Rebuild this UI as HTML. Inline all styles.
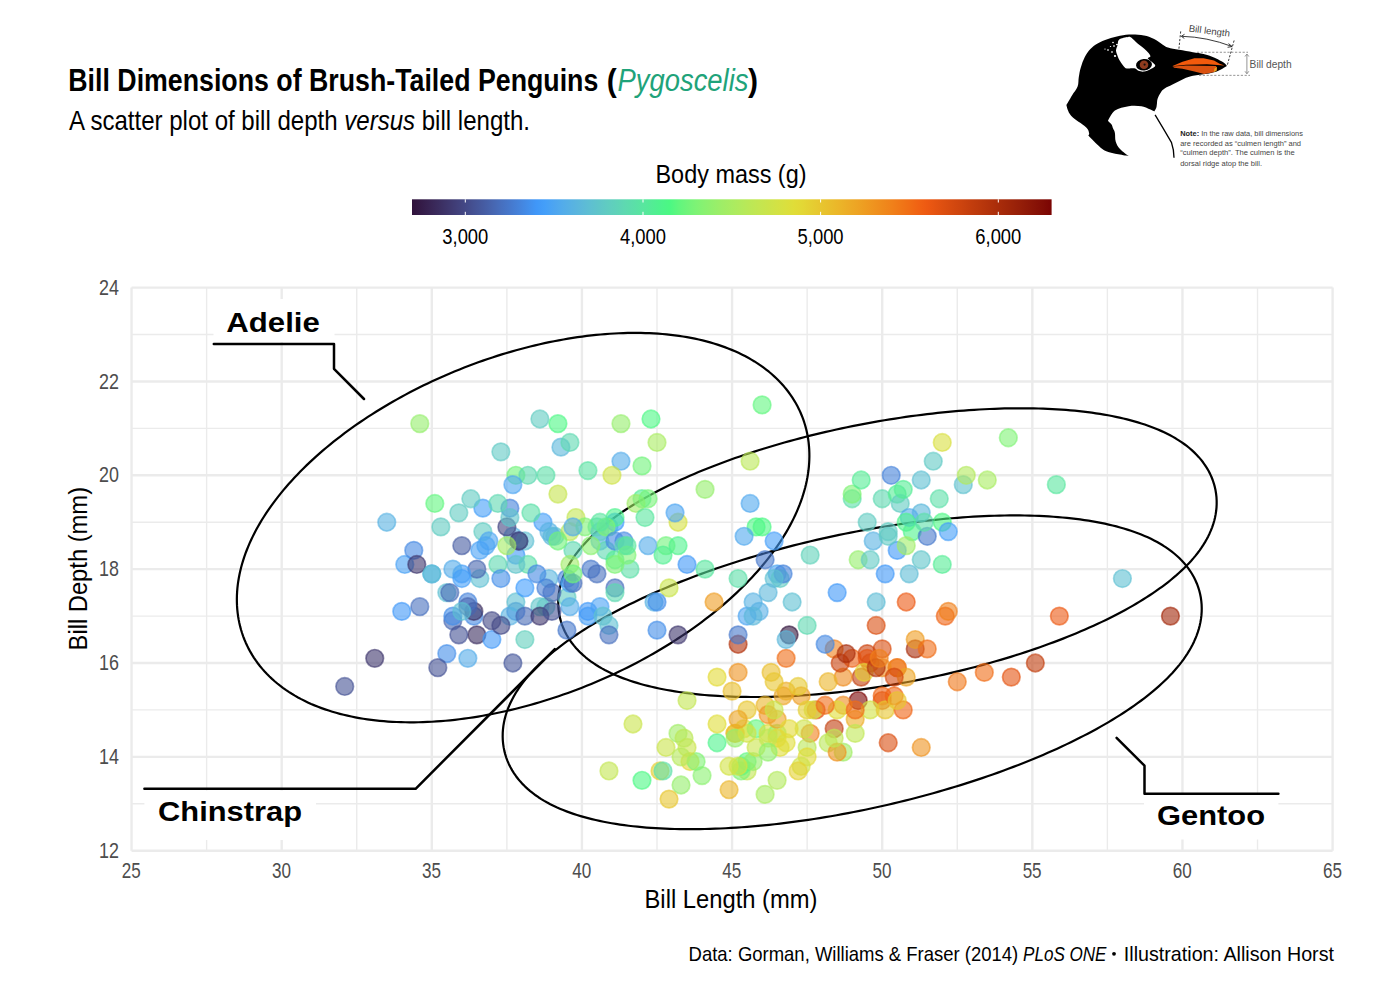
<!DOCTYPE html><html><head><meta charset="utf-8"><style>html,body{margin:0;padding:0;background:#fff;}svg{display:block;}text{font-family:"Liberation Sans",sans-serif;}</style></head><body>
<svg width="1400" height="1000" viewBox="0 0 1400 1000">
<rect width="1400" height="1000" fill="#fff"/>
<text x="68.3" y="91" font-size="30.6" font-weight="bold" fill="#000" textLength="530" lengthAdjust="spacingAndGlyphs">Bill Dimensions of Brush-Tailed Penguins</text>
<text x="606.8" y="91" font-size="30.6" font-weight="bold" fill="#000" textLength="10" lengthAdjust="spacingAndGlyphs">(</text>
<text x="617.5" y="91" font-size="30.6" font-style="italic" fill="#1fa37a" textLength="131" lengthAdjust="spacingAndGlyphs">Pygoscelis</text>
<text x="748" y="91" font-size="30.6" font-weight="bold" fill="#000" textLength="10" lengthAdjust="spacingAndGlyphs">)</text>
<text x="69" y="130" font-size="27.4" fill="#000" textLength="461" lengthAdjust="spacingAndGlyphs">A scatter plot of bill depth <tspan font-style="italic">versus</tspan> bill length.</text>
<defs><linearGradient id="cb" x1="0" x2="1" y1="0" y2="0">
<stop offset="0.0000" stop-color="#30123b"/>
<stop offset="0.0139" stop-color="#341b47"/>
<stop offset="0.0278" stop-color="#382453"/>
<stop offset="0.0417" stop-color="#3b2d5f"/>
<stop offset="0.0556" stop-color="#3e366c"/>
<stop offset="0.0694" stop-color="#413f79"/>
<stop offset="0.0833" stop-color="#434886"/>
<stop offset="0.0972" stop-color="#455294"/>
<stop offset="0.1111" stop-color="#465ba1"/>
<stop offset="0.1250" stop-color="#4765af"/>
<stop offset="0.1389" stop-color="#476fbe"/>
<stop offset="0.1528" stop-color="#4678cc"/>
<stop offset="0.1667" stop-color="#4582da"/>
<stop offset="0.1806" stop-color="#438de9"/>
<stop offset="0.1944" stop-color="#4097f8"/>
<stop offset="0.2083" stop-color="#449ff9"/>
<stop offset="0.2222" stop-color="#4da5f1"/>
<stop offset="0.2361" stop-color="#53acea"/>
<stop offset="0.2500" stop-color="#58b2e2"/>
<stop offset="0.2639" stop-color="#5cb8da"/>
<stop offset="0.2778" stop-color="#5ebfd2"/>
<stop offset="0.2917" stop-color="#5fc5c9"/>
<stop offset="0.3056" stop-color="#60ccc1"/>
<stop offset="0.3194" stop-color="#5fd2b9"/>
<stop offset="0.3333" stop-color="#5ed9b0"/>
<stop offset="0.3472" stop-color="#5bdfa8"/>
<stop offset="0.3611" stop-color="#58e69f"/>
<stop offset="0.3750" stop-color="#53ec95"/>
<stop offset="0.3889" stop-color="#4df38c"/>
<stop offset="0.4028" stop-color="#4bf883"/>
<stop offset="0.4167" stop-color="#60f67e"/>
<stop offset="0.4306" stop-color="#70f47a"/>
<stop offset="0.4444" stop-color="#7ef375"/>
<stop offset="0.4583" stop-color="#8af170"/>
<stop offset="0.4722" stop-color="#95ef6b"/>
<stop offset="0.4861" stop-color="#a0ed66"/>
<stop offset="0.5000" stop-color="#a9ec61"/>
<stop offset="0.5139" stop-color="#b2ea5c"/>
<stop offset="0.5278" stop-color="#bbe856"/>
<stop offset="0.5417" stop-color="#c3e651"/>
<stop offset="0.5556" stop-color="#cae44b"/>
<stop offset="0.5694" stop-color="#d2e245"/>
<stop offset="0.5833" stop-color="#d9e03f"/>
<stop offset="0.5972" stop-color="#e0dd38"/>
<stop offset="0.6111" stop-color="#e3d735"/>
<stop offset="0.6250" stop-color="#e5ce32"/>
<stop offset="0.6389" stop-color="#e7c62f"/>
<stop offset="0.6528" stop-color="#e9be2c"/>
<stop offset="0.6667" stop-color="#ebb629"/>
<stop offset="0.6806" stop-color="#ecad27"/>
<stop offset="0.6944" stop-color="#eda524"/>
<stop offset="0.7083" stop-color="#ee9c21"/>
<stop offset="0.7222" stop-color="#ef931f"/>
<stop offset="0.7361" stop-color="#ef8a1c"/>
<stop offset="0.7500" stop-color="#f0811a"/>
<stop offset="0.7639" stop-color="#f07717"/>
<stop offset="0.7778" stop-color="#f06d15"/>
<stop offset="0.7917" stop-color="#f06213"/>
<stop offset="0.8056" stop-color="#ed5912"/>
<stop offset="0.8194" stop-color="#e45311"/>
<stop offset="0.8333" stop-color="#db4e10"/>
<stop offset="0.8472" stop-color="#d3480f"/>
<stop offset="0.8611" stop-color="#cb430e"/>
<stop offset="0.8750" stop-color="#c23d0d"/>
<stop offset="0.8889" stop-color="#ba380c"/>
<stop offset="0.9028" stop-color="#b2320b"/>
<stop offset="0.9167" stop-color="#a92c0a"/>
<stop offset="0.9306" stop-color="#a12709"/>
<stop offset="0.9444" stop-color="#992109"/>
<stop offset="0.9583" stop-color="#911b08"/>
<stop offset="0.9722" stop-color="#891407"/>
<stop offset="0.9861" stop-color="#820d05"/>
<stop offset="1.0000" stop-color="#7a0403"/>
</linearGradient></defs>
<rect x="412.0" y="199.3" width="639.6" height="15.7" fill="url(#cb)"/>
<line x1="465.3" x2="465.3" y1="199.3" y2="202.5" stroke="#fff" stroke-width="1"/>
<line x1="465.3" x2="465.3" y1="211.8" y2="215" stroke="#fff" stroke-width="1"/>
<text x="465.3" y="244" font-size="21.8" fill="#000" text-anchor="middle" textLength="46" lengthAdjust="spacingAndGlyphs">3,000</text>
<line x1="643.0" x2="643.0" y1="199.3" y2="202.5" stroke="#fff" stroke-width="1"/>
<line x1="643.0" x2="643.0" y1="211.8" y2="215" stroke="#fff" stroke-width="1"/>
<text x="643.0" y="244" font-size="21.8" fill="#000" text-anchor="middle" textLength="46" lengthAdjust="spacingAndGlyphs">4,000</text>
<line x1="820.6" x2="820.6" y1="199.3" y2="202.5" stroke="#fff" stroke-width="1"/>
<line x1="820.6" x2="820.6" y1="211.8" y2="215" stroke="#fff" stroke-width="1"/>
<text x="820.6" y="244" font-size="21.8" fill="#000" text-anchor="middle" textLength="46" lengthAdjust="spacingAndGlyphs">5,000</text>
<line x1="998.3" x2="998.3" y1="199.3" y2="202.5" stroke="#fff" stroke-width="1"/>
<line x1="998.3" x2="998.3" y1="211.8" y2="215" stroke="#fff" stroke-width="1"/>
<text x="998.3" y="244" font-size="21.8" fill="#000" text-anchor="middle" textLength="46" lengthAdjust="spacingAndGlyphs">6,000</text>
<text x="731" y="182.7" font-size="25.6" fill="#000" text-anchor="middle" textLength="151" lengthAdjust="spacingAndGlyphs">Body mass (g)</text>
<line x1="131.55" x2="131.55" y1="287.60" y2="850.70" stroke="#ebebeb" stroke-width="2.4"/><line x1="206.62" x2="206.62" y1="287.60" y2="850.70" stroke="#ebebeb" stroke-width="1.4"/><line x1="281.68" x2="281.68" y1="287.60" y2="850.70" stroke="#ebebeb" stroke-width="2.4"/><line x1="356.75" x2="356.75" y1="287.60" y2="850.70" stroke="#ebebeb" stroke-width="1.4"/><line x1="431.81" x2="431.81" y1="287.60" y2="850.70" stroke="#ebebeb" stroke-width="2.4"/><line x1="506.88" x2="506.88" y1="287.60" y2="850.70" stroke="#ebebeb" stroke-width="1.4"/><line x1="581.94" x2="581.94" y1="287.60" y2="850.70" stroke="#ebebeb" stroke-width="2.4"/><line x1="657.01" x2="657.01" y1="287.60" y2="850.70" stroke="#ebebeb" stroke-width="1.4"/><line x1="732.07" x2="732.07" y1="287.60" y2="850.70" stroke="#ebebeb" stroke-width="2.4"/><line x1="807.13" x2="807.13" y1="287.60" y2="850.70" stroke="#ebebeb" stroke-width="1.4"/><line x1="882.20" x2="882.20" y1="287.60" y2="850.70" stroke="#ebebeb" stroke-width="2.4"/><line x1="957.27" x2="957.27" y1="287.60" y2="850.70" stroke="#ebebeb" stroke-width="1.4"/><line x1="1032.33" x2="1032.33" y1="287.60" y2="850.70" stroke="#ebebeb" stroke-width="2.4"/><line x1="1107.39" x2="1107.39" y1="287.60" y2="850.70" stroke="#ebebeb" stroke-width="1.4"/><line x1="1182.46" x2="1182.46" y1="287.60" y2="850.70" stroke="#ebebeb" stroke-width="2.4"/><line x1="1257.52" x2="1257.52" y1="287.60" y2="850.70" stroke="#ebebeb" stroke-width="1.4"/><line x1="1332.59" x2="1332.59" y1="287.60" y2="850.70" stroke="#ebebeb" stroke-width="2.4"/><line x1="131.55" x2="1332.59" y1="850.70" y2="850.70" stroke="#ebebeb" stroke-width="2.4"/><line x1="131.55" x2="1332.59" y1="803.77" y2="803.77" stroke="#ebebeb" stroke-width="1.4"/><line x1="131.55" x2="1332.59" y1="756.85" y2="756.85" stroke="#ebebeb" stroke-width="2.4"/><line x1="131.55" x2="1332.59" y1="709.92" y2="709.92" stroke="#ebebeb" stroke-width="1.4"/><line x1="131.55" x2="1332.59" y1="663.00" y2="663.00" stroke="#ebebeb" stroke-width="2.4"/><line x1="131.55" x2="1332.59" y1="616.08" y2="616.08" stroke="#ebebeb" stroke-width="1.4"/><line x1="131.55" x2="1332.59" y1="569.15" y2="569.15" stroke="#ebebeb" stroke-width="2.4"/><line x1="131.55" x2="1332.59" y1="522.23" y2="522.23" stroke="#ebebeb" stroke-width="1.4"/><line x1="131.55" x2="1332.59" y1="475.30" y2="475.30" stroke="#ebebeb" stroke-width="2.4"/><line x1="131.55" x2="1332.59" y1="428.38" y2="428.38" stroke="#ebebeb" stroke-width="1.4"/><line x1="131.55" x2="1332.59" y1="381.45" y2="381.45" stroke="#ebebeb" stroke-width="2.4"/><line x1="131.55" x2="1332.59" y1="334.53" y2="334.53" stroke="#ebebeb" stroke-width="1.4"/><line x1="131.55" x2="1332.59" y1="287.60" y2="287.60" stroke="#ebebeb" stroke-width="2.4"/>
<text x="131.35" y="878" font-size="21.8" fill="#4d4d4d" text-anchor="middle" textLength="19" lengthAdjust="spacingAndGlyphs">25</text>
<text x="281.48" y="878" font-size="21.8" fill="#4d4d4d" text-anchor="middle" textLength="19" lengthAdjust="spacingAndGlyphs">30</text>
<text x="431.61" y="878" font-size="21.8" fill="#4d4d4d" text-anchor="middle" textLength="19" lengthAdjust="spacingAndGlyphs">35</text>
<text x="581.74" y="878" font-size="21.8" fill="#4d4d4d" text-anchor="middle" textLength="19" lengthAdjust="spacingAndGlyphs">40</text>
<text x="731.87" y="878" font-size="21.8" fill="#4d4d4d" text-anchor="middle" textLength="19" lengthAdjust="spacingAndGlyphs">45</text>
<text x="882.00" y="878" font-size="21.8" fill="#4d4d4d" text-anchor="middle" textLength="19" lengthAdjust="spacingAndGlyphs">50</text>
<text x="1032.13" y="878" font-size="21.8" fill="#4d4d4d" text-anchor="middle" textLength="19" lengthAdjust="spacingAndGlyphs">55</text>
<text x="1182.26" y="878" font-size="21.8" fill="#4d4d4d" text-anchor="middle" textLength="19" lengthAdjust="spacingAndGlyphs">60</text>
<text x="1332.39" y="878" font-size="21.8" fill="#4d4d4d" text-anchor="middle" textLength="19" lengthAdjust="spacingAndGlyphs">65</text>
<text x="119" y="857.80" font-size="21.8" fill="#4d4d4d" text-anchor="end" textLength="19.9" lengthAdjust="spacingAndGlyphs">12</text>
<text x="119" y="763.95" font-size="21.8" fill="#4d4d4d" text-anchor="end" textLength="19.9" lengthAdjust="spacingAndGlyphs">14</text>
<text x="119" y="670.10" font-size="21.8" fill="#4d4d4d" text-anchor="end" textLength="19.9" lengthAdjust="spacingAndGlyphs">16</text>
<text x="119" y="576.25" font-size="21.8" fill="#4d4d4d" text-anchor="end" textLength="19.9" lengthAdjust="spacingAndGlyphs">18</text>
<text x="119" y="482.40" font-size="21.8" fill="#4d4d4d" text-anchor="end" textLength="19.9" lengthAdjust="spacingAndGlyphs">20</text>
<text x="119" y="388.55" font-size="21.8" fill="#4d4d4d" text-anchor="end" textLength="19.9" lengthAdjust="spacingAndGlyphs">22</text>
<text x="119" y="294.70" font-size="21.8" fill="#4d4d4d" text-anchor="end" textLength="19.9" lengthAdjust="spacingAndGlyphs">24</text>
<text x="731" y="907.9" font-size="26.2" fill="#000" text-anchor="middle" textLength="173" lengthAdjust="spacingAndGlyphs">Bill Length (mm)</text>
<text transform="translate(87.1,568.7) rotate(-90)" x="0" y="0" font-size="26.2" fill="#000" text-anchor="middle" textLength="163.5" lengthAdjust="spacingAndGlyphs">Bill Depth (mm)</text>
<text x="688.6" y="960.6" font-size="20.4" fill="#000" textLength="329.6" lengthAdjust="spacingAndGlyphs">Data: Gorman, Williams &amp; Fraser (2014)</text>
<text x="1023" y="960.6" font-size="20.4" font-style="italic" fill="#000" textLength="83.5" lengthAdjust="spacingAndGlyphs">PLoS ONE</text>
<circle cx="1114" cy="953.8" r="1.9" fill="#000"/>
<text x="1123.8" y="960.6" font-size="20.4" fill="#000" textLength="210.2" lengthAdjust="spacingAndGlyphs">Illustration: Allison Horst</text>
<path d="M244.41,639.49 L243.18,636.27 L242.05,633.01 L241.04,629.71 L240.14,626.38 L239.34,623.02 L238.66,619.63 L238.09,616.22 L237.63,612.79 L237.27,609.34 L237.03,605.88 L236.89,602.40 L236.86,598.92 L236.93,595.43 L237.11,591.94 L237.38,588.45 L237.76,584.95 L238.24,581.46 L238.81,577.96 L239.48,574.47 L240.25,570.99 L241.10,567.51 L242.05,564.04 L243.08,560.58 L244.20,557.12 L245.41,553.68 L246.71,550.24 L248.08,546.81 L249.54,543.40 L251.08,539.99 L252.70,536.60 L254.40,533.21 L256.18,529.84 L258.03,526.48 L259.96,523.14 L261.96,519.80 L264.04,516.48 L266.19,513.17 L268.41,509.88 L270.70,506.60 L273.06,503.33 L275.49,500.08 L277.98,496.85 L280.55,493.63 L283.18,490.42 L285.88,487.23 L288.64,484.06 L291.46,480.91 L294.35,477.77 L297.30,474.65 L300.31,471.55 L303.38,468.47 L306.51,465.41 L309.69,462.37 L312.94,459.35 L316.24,456.35 L319.60,453.38 L323.01,450.42 L326.48,447.49 L330.00,444.59 L333.57,441.70 L337.19,438.84 L340.86,436.01 L344.58,433.20 L348.35,430.42 L352.17,427.67 L356.03,424.94 L359.94,422.24 L363.89,419.58 L367.88,416.94 L371.92,414.33 L375.99,411.75 L380.11,409.20 L384.26,406.69 L388.45,404.21 L392.68,401.76 L396.94,399.34 L401.23,396.96 L405.56,394.62 L409.92,392.31 L414.31,390.03 L418.73,387.80 L423.18,385.60 L427.65,383.43 L432.15,381.31 L436.67,379.23 L441.22,377.18 L445.79,375.18 L450.38,373.21 L454.99,371.29 L459.61,369.41 L464.26,367.57 L468.92,365.77 L473.59,364.02 L478.28,362.31 L482.98,360.64 L487.69,359.02 L492.40,357.44 L497.13,355.91 L501.86,354.42 L506.60,352.98 L511.35,351.59 L516.09,350.25 L520.84,348.95 L525.59,347.70 L530.34,346.50 L535.09,345.34 L539.83,344.24 L544.57,343.18 L549.30,342.18 L554.03,341.22 L558.75,340.32 L563.46,339.46 L568.16,338.66 L572.85,337.91 L577.52,337.21 L582.18,336.56 L586.83,335.96 L591.46,335.41 L596.07,334.92 L600.66,334.48 L605.24,334.10 L609.79,333.76 L614.32,333.48 L618.83,333.26 L623.31,333.09 L627.77,332.97 L632.20,332.91 L636.61,332.90 L640.98,332.95 L645.33,333.05 L649.65,333.21 L653.94,333.42 L658.19,333.69 L662.41,334.02 L666.60,334.40 L670.75,334.84 L674.87,335.34 L678.95,335.89 L682.99,336.50 L686.99,337.17 L690.95,337.90 L694.88,338.68 L698.76,339.53 L702.60,340.43 L706.39,341.40 L710.15,342.42 L713.85,343.50 L717.51,344.65 L721.13,345.86 L724.70,347.13 L728.21,348.46 L731.68,349.86 L735.10,351.31 L738.46,352.84 L741.77,354.43 L745.03,356.08 L748.23,357.80 L751.37,359.59 L754.45,361.44 L757.48,363.36 L760.44,365.35 L763.33,367.41 L766.16,369.53 L768.92,371.73 L771.61,373.99 L774.23,376.33 L776.77,378.73 L779.24,381.20 L781.62,383.73 L783.92,386.34 L786.14,389.01 L788.27,391.74 L790.31,394.54 L792.25,397.40 L794.10,400.32 L795.85,403.30 L797.50,406.33 L799.05,409.41 L800.50,412.55 L801.84,415.73 L803.07,418.95 L804.19,422.21 L805.20,425.51 L806.11,428.84 L806.90,432.20 L807.58,435.59 L808.15,439.00 L808.62,442.43 L808.97,445.88 L809.22,449.34 L809.35,452.82 L809.39,456.30 L809.31,459.79 L809.14,463.28 L808.86,466.78 L808.48,470.27 L808.00,473.77 L807.43,477.26 L806.76,480.75 L806.00,484.23 L805.14,487.71 L804.20,491.18 L803.16,494.64 L802.04,498.10 L800.83,501.54 L799.54,504.98 L798.16,508.41 L796.70,511.82 L795.16,515.23 L793.54,518.62 L791.84,522.01 L790.06,525.38 L788.21,528.74 L786.28,532.08 L784.28,535.42 L782.20,538.74 L780.06,542.05 L777.84,545.34 L775.54,548.62 L773.18,551.89 L770.76,555.14 L768.26,558.37 L765.69,561.59 L763.06,564.80 L760.37,567.99 L757.61,571.16 L754.78,574.31 L751.90,577.45 L748.95,580.57 L745.94,583.67 L742.87,586.75 L739.74,589.81 L736.55,592.85 L733.30,595.87 L730.00,598.87 L726.64,601.84 L723.23,604.80 L719.77,607.73 L716.25,610.64 L712.67,613.52 L709.05,616.38 L705.38,619.21 L701.66,622.02 L697.89,624.80 L694.07,627.55 L690.21,630.28 L686.31,632.98 L682.36,635.65 L678.36,638.28 L674.33,640.89 L670.25,643.47 L666.14,646.02 L661.98,648.53 L657.79,651.01 L653.57,653.46 L649.30,655.88 L645.01,658.26 L640.68,660.60 L636.32,662.91 L631.93,665.19 L627.51,667.43 L623.06,669.62 L618.59,671.79 L614.09,673.91 L609.57,675.99 L605.02,678.04 L600.45,680.04 L595.86,682.01 L591.26,683.93 L586.63,685.81 L581.98,687.65 L577.33,689.45 L572.65,691.20 L567.97,692.92 L563.27,694.58 L558.56,696.20 L553.84,697.78 L549.11,699.31 L544.38,700.80 L539.64,702.24 L534.89,703.63 L530.15,704.97 L525.40,706.27 L520.65,707.52 L515.90,708.73 L511.15,709.88 L506.41,710.98 L501.67,712.04 L496.94,713.04 L492.21,714.00 L487.49,714.90 L482.78,715.76 L478.08,716.56 L473.40,717.32 L468.72,718.02 L464.06,718.67 L459.41,719.26 L454.79,719.81 L450.17,720.30 L445.58,720.74 L441.01,721.12 L436.45,721.46 L431.92,721.74 L427.42,721.96 L422.93,722.13 L418.47,722.25 L414.04,722.31 L409.63,722.32 L405.26,722.27 L400.91,722.17 L396.59,722.01 L392.31,721.80 L388.05,721.53 L383.83,721.20 L379.64,720.82 L375.49,720.38 L371.38,719.88 L367.30,719.33 L363.25,718.72 L359.25,718.05 L355.29,717.32 L351.37,716.54 L347.48,715.69 L343.64,714.79 L339.85,713.83 L336.10,712.80 L332.39,711.72 L328.73,710.57 L325.11,709.36 L321.55,708.09 L318.03,706.76 L314.56,705.37 L311.14,703.91 L307.78,702.38 L304.47,700.79 L301.21,699.14 L298.01,697.42 L294.87,695.63 L291.79,693.78 L288.77,691.86 L285.81,689.87 L282.91,687.81 L280.08,685.69 L277.32,683.49 L274.63,681.23 L272.01,678.90 L269.47,676.49 L267.00,674.02 L264.62,671.49 L262.32,668.88 L260.10,666.21 L257.97,663.48 L255.94,660.68 L253.99,657.82 L252.14,654.90 L250.39,651.92 L248.74,648.89 L247.19,645.81 L245.75,642.67Z" fill="none" stroke="#000" stroke-width="2.2" stroke-linejoin="round"/>
<path d="M559.38,614.98 L558.82,611.54 L558.45,608.07 L558.26,604.60 L558.25,601.13 L558.43,597.69 L558.77,594.27 L559.28,590.91 L559.94,587.58 L560.76,584.32 L561.71,581.11 L562.79,577.97 L563.99,574.89 L565.31,571.87 L566.73,568.91 L568.26,566.01 L569.89,563.17 L571.60,560.38 L573.41,557.65 L575.30,554.96 L577.27,552.32 L579.32,549.72 L581.45,547.16 L583.65,544.64 L585.93,542.15 L588.28,539.70 L590.71,537.28 L593.20,534.88 L595.77,532.51 L598.41,530.17 L601.11,527.85 L603.89,525.55 L606.73,523.28 L609.64,521.02 L612.62,518.79 L615.67,516.57 L618.78,514.37 L621.96,512.19 L625.21,510.03 L628.52,507.89 L631.89,505.76 L635.33,503.64 L638.83,501.55 L642.40,499.47 L646.03,497.40 L649.72,495.36 L653.47,493.32 L657.28,491.31 L661.15,489.31 L665.07,487.33 L669.06,485.36 L673.10,483.41 L677.20,481.48 L681.35,479.57 L685.56,477.67 L689.82,475.80 L694.13,473.94 L698.49,472.10 L702.90,470.27 L707.36,468.47 L711.87,466.69 L716.43,464.92 L721.03,463.18 L725.67,461.46 L730.36,459.76 L735.09,458.08 L739.86,456.42 L744.67,454.78 L749.51,453.17 L754.40,451.58 L759.32,450.01 L764.27,448.47 L769.26,446.95 L774.27,445.45 L779.32,443.98 L784.40,442.53 L789.50,441.11 L794.63,439.72 L799.78,438.35 L804.96,437.01 L810.16,435.69 L815.38,434.40 L820.62,433.14 L825.88,431.91 L831.15,430.70 L836.43,429.53 L841.73,428.38 L847.04,427.26 L852.37,426.17 L857.70,425.11 L863.03,424.08 L868.38,423.08 L873.72,422.11 L879.07,421.18 L884.42,420.27 L889.78,419.39 L895.13,418.55 L900.47,417.74 L905.81,416.96 L911.15,416.21 L916.48,415.49 L921.80,414.81 L927.11,414.16 L932.40,413.54 L937.69,412.96 L942.96,412.41 L948.21,411.89 L953.45,411.41 L958.66,410.96 L963.86,410.54 L969.03,410.16 L974.18,409.82 L979.31,409.51 L984.41,409.23 L989.49,408.99 L994.53,408.78 L999.55,408.61 L1004.53,408.47 L1009.48,408.37 L1014.40,408.31 L1019.29,408.28 L1024.14,408.28 L1028.95,408.32 L1033.72,408.40 L1038.45,408.51 L1043.15,408.66 L1047.80,408.85 L1052.41,409.07 L1056.97,409.33 L1061.49,409.62 L1065.97,409.95 L1070.39,410.32 L1074.77,410.72 L1079.11,411.16 L1083.39,411.64 L1087.62,412.15 L1091.81,412.70 L1095.94,413.29 L1100.02,413.92 L1104.05,414.59 L1108.02,415.29 L1111.94,416.03 L1115.81,416.82 L1119.62,417.64 L1123.38,418.50 L1127.08,419.40 L1130.73,420.35 L1134.32,421.33 L1137.86,422.36 L1141.34,423.44 L1144.76,424.56 L1148.13,425.72 L1151.44,426.93 L1154.70,428.20 L1157.90,429.51 L1161.04,430.87 L1164.13,432.29 L1167.16,433.77 L1170.14,435.31 L1173.06,436.91 L1175.92,438.57 L1178.72,440.31 L1181.46,442.11 L1184.15,444.00 L1186.77,445.96 L1189.32,448.01 L1191.80,450.14 L1194.21,452.37 L1196.55,454.70 L1198.80,457.13 L1200.96,459.65 L1203.02,462.29 L1204.97,465.03 L1206.80,467.87 L1208.51,470.82 L1210.09,473.87 L1211.51,477.01 L1212.78,480.24 L1213.87,483.54 L1214.80,486.90 L1215.54,490.31 L1216.10,493.76 L1216.48,497.23 L1216.66,500.70 L1216.67,504.16 L1216.50,507.61 L1216.15,511.02 L1215.64,514.39 L1214.98,517.71 L1214.17,520.98 L1213.22,524.18 L1212.14,527.33 L1210.93,530.41 L1209.61,533.43 L1208.19,536.39 L1206.66,539.28 L1205.04,542.13 L1203.32,544.91 L1201.52,547.65 L1199.63,550.34 L1197.65,552.98 L1195.60,555.58 L1193.48,558.13 L1191.27,560.66 L1188.99,563.14 L1186.64,565.60 L1184.22,568.02 L1181.72,570.41 L1179.15,572.78 L1176.52,575.13 L1173.81,577.44 L1171.03,579.74 L1168.19,582.02 L1165.28,584.27 L1162.30,586.51 L1159.25,588.72 L1156.14,590.92 L1152.96,593.10 L1149.71,595.26 L1146.40,597.41 L1143.03,599.54 L1139.59,601.65 L1136.09,603.75 L1132.52,605.83 L1128.89,607.89 L1125.20,609.94 L1121.45,611.97 L1117.64,613.99 L1113.78,615.99 L1109.85,617.97 L1105.86,619.93 L1101.82,621.88 L1097.72,623.81 L1093.57,625.73 L1089.36,627.62 L1085.10,629.50 L1080.79,631.36 L1076.43,633.20 L1072.02,635.02 L1067.56,636.82 L1063.05,638.61 L1058.50,640.37 L1053.90,642.11 L1049.25,643.84 L1044.56,645.54 L1039.83,647.22 L1035.06,648.88 L1030.26,650.51 L1025.41,652.13 L1020.53,653.72 L1015.61,655.28 L1010.65,656.83 L1005.67,658.35 L1000.65,659.84 L995.60,661.31 L990.53,662.76 L985.42,664.18 L980.29,665.58 L975.14,666.95 L969.96,668.29 L964.76,669.60 L959.54,670.89 L954.30,672.15 L949.05,673.39 L943.77,674.59 L938.49,675.77 L933.19,676.92 L927.88,678.03 L922.56,679.12 L917.23,680.18 L911.89,681.21 L906.55,682.21 L901.20,683.18 L895.85,684.12 L890.50,685.03 L885.15,685.90 L879.80,686.75 L874.45,687.56 L869.11,688.34 L863.77,689.09 L858.44,689.80 L853.12,690.49 L847.81,691.14 L842.52,691.75 L837.23,692.34 L831.96,692.89 L826.71,693.40 L821.48,693.89 L816.26,694.34 L811.06,694.75 L805.89,695.13 L800.74,695.48 L795.61,695.79 L790.51,696.06 L785.44,696.31 L780.39,696.51 L775.38,696.68 L770.39,696.82 L765.44,696.92 L760.52,696.99 L755.64,697.02 L750.79,697.01 L745.98,696.97 L741.20,696.89 L736.47,696.78 L731.78,696.63 L727.13,696.45 L722.52,696.23 L717.95,695.97 L713.43,695.68 L708.96,695.35 L704.53,694.98 L700.15,694.58 L695.82,694.14 L691.53,693.66 L687.30,693.14 L683.11,692.59 L678.98,692.00 L674.90,691.37 L670.88,690.71 L666.90,690.01 L662.98,689.26 L659.11,688.48 L655.30,687.66 L651.54,686.80 L647.84,685.89 L644.19,684.95 L640.60,683.96 L637.07,682.93 L633.59,681.86 L630.16,680.74 L626.79,679.57 L623.48,678.36 L620.22,677.10 L617.02,675.79 L613.88,674.42 L610.79,673.00 L607.76,671.52 L604.78,669.99 L601.87,668.39 L599.00,666.72 L596.20,664.99 L593.46,663.18 L590.78,661.30 L588.16,659.33 L585.60,657.29 L583.12,655.15 L580.71,652.92 L578.37,650.60 L576.13,648.17 L573.97,645.64 L571.91,643.01 L569.95,640.27 L568.12,637.42 L566.41,634.47 L564.84,631.43 L563.41,628.29 L562.15,625.06 L561.05,621.76 L560.12,618.40Z" fill="none" stroke="#000" stroke-width="2.2" stroke-linejoin="round"/>
<path d="M504.29,750.64 L503.60,747.13 L503.10,743.59 L502.79,740.03 L502.67,736.47 L502.73,732.93 L502.97,729.42 L503.38,725.93 L503.96,722.49 L504.69,719.10 L505.57,715.76 L506.59,712.48 L507.73,709.25 L509.00,706.08 L510.39,702.97 L511.88,699.91 L513.48,696.90 L515.18,693.94 L516.98,691.02 L518.87,688.16 L520.85,685.33 L522.91,682.54 L525.06,679.78 L527.30,677.06 L529.62,674.37 L532.02,671.71 L534.49,669.08 L537.05,666.47 L539.69,663.88 L542.40,661.31 L545.19,658.77 L548.05,656.24 L551.00,653.73 L554.01,651.24 L557.10,648.77 L560.27,646.31 L563.51,643.87 L566.82,641.45 L570.20,639.03 L573.66,636.64 L577.18,634.25 L580.78,631.88 L584.44,629.53 L588.18,627.19 L591.98,624.86 L595.85,622.55 L599.79,620.25 L603.79,617.96 L607.86,615.69 L612.00,613.44 L616.19,611.20 L620.45,608.98 L624.77,606.77 L629.15,604.58 L633.59,602.40 L638.08,600.24 L642.64,598.10 L647.24,595.98 L651.91,593.87 L656.63,591.78 L661.40,589.72 L666.22,587.67 L671.09,585.64 L676.01,583.63 L680.97,581.64 L685.99,579.67 L691.04,577.72 L696.15,575.80 L701.29,573.90 L706.47,572.02 L711.69,570.16 L716.95,568.33 L722.25,566.52 L727.58,564.74 L732.95,562.98 L738.34,561.25 L743.77,559.54 L749.23,557.86 L754.71,556.21 L760.22,554.58 L765.76,552.98 L771.31,551.41 L776.89,549.87 L782.49,548.36 L788.11,546.87 L793.74,545.42 L799.39,544.00 L805.05,542.60 L810.73,541.24 L816.41,539.91 L822.10,538.61 L827.80,537.35 L833.51,536.11 L839.22,534.91 L844.93,533.74 L850.65,532.61 L856.36,531.51 L862.07,530.44 L867.78,529.41 L873.48,528.41 L879.17,527.45 L884.86,526.52 L890.53,525.63 L896.20,524.77 L901.85,523.95 L907.48,523.17 L913.10,522.42 L918.70,521.71 L924.28,521.03 L929.84,520.40 L935.38,519.80 L940.89,519.24 L946.38,518.71 L951.84,518.23 L957.28,517.78 L962.68,517.37 L968.05,517.00 L973.39,516.67 L978.70,516.38 L983.97,516.12 L989.20,515.91 L994.40,515.73 L999.56,515.60 L1004.67,515.50 L1009.75,515.44 L1014.78,515.43 L1019.77,515.45 L1024.71,515.51 L1029.61,515.62 L1034.46,515.76 L1039.26,515.95 L1044.01,516.17 L1048.71,516.44 L1053.35,516.74 L1057.95,517.09 L1062.49,517.48 L1066.98,517.91 L1071.42,518.38 L1075.79,518.90 L1080.11,519.46 L1084.38,520.05 L1088.59,520.70 L1092.74,521.38 L1096.83,522.11 L1100.86,522.89 L1104.83,523.70 L1108.74,524.57 L1112.60,525.48 L1116.39,526.43 L1120.12,527.44 L1123.79,528.49 L1127.40,529.60 L1130.95,530.75 L1134.44,531.96 L1137.87,533.22 L1141.24,534.54 L1144.55,535.92 L1147.80,537.36 L1150.98,538.86 L1154.11,540.42 L1157.17,542.06 L1160.17,543.76 L1163.11,545.55 L1165.98,547.41 L1168.78,549.35 L1171.52,551.39 L1174.18,553.51 L1176.77,555.73 L1179.27,558.05 L1181.69,560.48 L1184.01,563.01 L1186.24,565.65 L1188.35,568.40 L1190.35,571.26 L1192.21,574.23 L1193.94,577.30 L1195.51,580.48 L1196.93,583.74 L1198.17,587.09 L1199.24,590.50 L1200.12,593.98 L1200.81,597.49 L1201.31,601.03 L1201.62,604.59 L1201.74,608.15 L1201.68,611.69 L1201.44,615.20 L1201.03,618.69 L1200.45,622.13 L1199.72,625.52 L1198.84,628.86 L1197.82,632.14 L1196.68,635.37 L1195.41,638.54 L1194.03,641.65 L1192.53,644.71 L1190.93,647.72 L1189.23,650.68 L1187.43,653.60 L1185.54,656.46 L1183.57,659.29 L1181.50,662.08 L1179.35,664.84 L1177.11,667.56 L1174.79,670.25 L1172.40,672.91 L1169.92,675.54 L1167.36,678.15 L1164.72,680.74 L1162.01,683.31 L1159.22,685.85 L1156.36,688.38 L1153.42,690.89 L1150.40,693.38 L1147.31,695.85 L1144.14,698.31 L1140.91,700.75 L1137.59,703.17 L1134.21,705.59 L1130.76,707.98 L1127.23,710.37 L1123.63,712.74 L1119.97,715.09 L1116.23,717.43 L1112.43,719.76 L1108.56,722.07 L1104.62,724.37 L1100.62,726.66 L1096.55,728.93 L1092.42,731.18 L1088.22,733.42 L1083.96,735.64 L1079.64,737.85 L1075.26,740.04 L1070.83,742.22 L1066.33,744.38 L1061.78,746.52 L1057.17,748.64 L1052.50,750.75 L1047.78,752.84 L1043.01,754.90 L1038.19,756.95 L1033.32,758.98 L1028.40,760.99 L1023.44,762.98 L1018.42,764.95 L1013.37,766.90 L1008.27,768.82 L1003.12,770.72 L997.94,772.60 L992.72,774.46 L987.46,776.29 L982.16,778.10 L976.83,779.88 L971.46,781.64 L966.07,783.37 L960.64,785.08 L955.18,786.76 L949.70,788.41 L944.19,790.04 L938.65,791.64 L933.10,793.21 L927.52,794.75 L921.92,796.26 L916.30,797.75 L910.67,799.20 L905.02,800.62 L899.36,802.02 L893.69,803.38 L888.00,804.71 L882.31,806.01 L876.61,807.27 L870.90,808.51 L865.19,809.71 L859.48,810.88 L853.76,812.01 L848.05,813.11 L842.34,814.18 L836.63,815.21 L830.93,816.21 L825.24,817.17 L819.55,818.10 L813.88,818.99 L808.22,819.85 L802.57,820.67 L796.93,821.45 L791.31,822.20 L785.71,822.91 L780.13,823.59 L774.57,824.22 L769.03,824.82 L763.52,825.38 L758.03,825.91 L752.57,826.39 L747.13,826.84 L741.73,827.25 L736.36,827.62 L731.02,827.95 L725.71,828.24 L720.44,828.50 L715.21,828.71 L710.01,828.89 L704.85,829.02 L699.74,829.12 L694.66,829.18 L689.63,829.19 L684.64,829.17 L679.70,829.11 L674.80,829.00 L669.96,828.86 L665.16,828.67 L660.41,828.45 L655.71,828.18 L651.06,827.88 L646.46,827.53 L641.92,827.14 L637.43,826.71 L633.00,826.24 L628.62,825.72 L624.30,825.16 L620.03,824.57 L615.82,823.92 L611.67,823.24 L607.58,822.51 L603.55,821.73 L599.58,820.92 L595.67,820.05 L591.81,819.14 L588.02,818.19 L584.29,817.18 L580.62,816.13 L577.01,815.02 L573.46,813.87 L569.97,812.66 L566.54,811.40 L563.17,810.08 L559.86,808.70 L556.61,807.26 L553.43,805.76 L550.30,804.20 L547.24,802.56 L544.24,800.86 L541.30,799.07 L538.43,797.21 L535.63,795.27 L532.89,793.23 L530.23,791.11 L527.64,788.89 L525.14,786.57 L522.72,784.14 L520.40,781.61 L518.17,778.97 L516.06,776.22 L514.06,773.36 L512.20,770.39 L510.47,767.32 L508.90,764.14 L507.48,760.88 L506.24,757.53 L505.17,754.12Z" fill="none" stroke="#000" stroke-width="2.2" stroke-linejoin="round"/>
<circle cx="554.92" cy="536.30" r="8.8" fill="#5fc5c9" fill-opacity="0.60" stroke="#5fc5c9" stroke-opacity="0.60" stroke-width="1.7"/><circle cx="566.93" cy="597.31" r="8.8" fill="#60ccc1" fill-opacity="0.60" stroke="#60ccc1" stroke-opacity="0.60" stroke-width="1.7"/><circle cx="590.95" cy="569.15" r="8.8" fill="#4678cc" fill-opacity="0.60" stroke="#4678cc" stroke-opacity="0.60" stroke-width="1.7"/><circle cx="482.85" cy="508.15" r="8.8" fill="#449ff9" fill-opacity="0.60" stroke="#449ff9" stroke-opacity="0.60" stroke-width="1.7"/><circle cx="560.92" cy="447.14" r="8.8" fill="#5cb8da" fill-opacity="0.60" stroke="#5cb8da" stroke-opacity="0.60" stroke-width="1.7"/><circle cx="548.91" cy="578.53" r="8.8" fill="#5ab5de" fill-opacity="0.60" stroke="#5ab5de" stroke-opacity="0.60" stroke-width="1.7"/><circle cx="557.92" cy="494.07" r="8.8" fill="#c6e54e" fill-opacity="0.60" stroke="#c6e54e" stroke-opacity="0.60" stroke-width="1.7"/><circle cx="404.79" cy="564.46" r="8.8" fill="#49a2f5" fill-opacity="0.60" stroke="#49a2f5" stroke-opacity="0.60" stroke-width="1.7"/><circle cx="641.99" cy="465.92" r="8.8" fill="#70f47a" fill-opacity="0.60" stroke="#70f47a" stroke-opacity="0.60" stroke-width="1.7"/><circle cx="515.88" cy="611.38" r="8.8" fill="#4582da" fill-opacity="0.60" stroke="#4582da" stroke-opacity="0.60" stroke-width="1.7"/><circle cx="515.88" cy="602.00" r="8.8" fill="#5ebfd2" fill-opacity="0.60" stroke="#5ebfd2" stroke-opacity="0.60" stroke-width="1.7"/><circle cx="614.97" cy="587.92" r="8.8" fill="#476fbe" fill-opacity="0.60" stroke="#476fbe" stroke-opacity="0.60" stroke-width="1.7"/><circle cx="539.90" cy="418.99" r="8.8" fill="#60ccc1" fill-opacity="0.60" stroke="#60ccc1" stroke-opacity="0.60" stroke-width="1.7"/><circle cx="419.80" cy="423.68" r="8.8" fill="#95ef6b" fill-opacity="0.60" stroke="#95ef6b" stroke-opacity="0.60" stroke-width="1.7"/><circle cx="479.85" cy="578.53" r="8.8" fill="#5ebfd2" fill-opacity="0.60" stroke="#5ebfd2" stroke-opacity="0.60" stroke-width="1.7"/><circle cx="542.91" cy="522.23" r="8.8" fill="#449ff9" fill-opacity="0.60" stroke="#449ff9" stroke-opacity="0.60" stroke-width="1.7"/><circle cx="657.01" cy="442.45" r="8.8" fill="#a9ec61" fill-opacity="0.60" stroke="#a9ec61" stroke-opacity="0.60" stroke-width="1.7"/><circle cx="413.79" cy="550.38" r="8.8" fill="#4488e2" fill-opacity="0.60" stroke="#4488e2" stroke-opacity="0.60" stroke-width="1.7"/><circle cx="762.10" cy="404.91" r="8.8" fill="#60f67e" fill-opacity="0.60" stroke="#60f67e" stroke-opacity="0.60" stroke-width="1.7"/><circle cx="515.88" cy="555.07" r="8.8" fill="#4097f8" fill-opacity="0.60" stroke="#4097f8" stroke-opacity="0.60" stroke-width="1.7"/><circle cx="512.88" cy="536.30" r="8.8" fill="#58b2e2" fill-opacity="0.60" stroke="#58b2e2" stroke-opacity="0.60" stroke-width="1.7"/><circle cx="458.83" cy="512.84" r="8.8" fill="#60ccc1" fill-opacity="0.60" stroke="#60ccc1" stroke-opacity="0.60" stroke-width="1.7"/><circle cx="527.89" cy="564.46" r="8.8" fill="#5bdfa8" fill-opacity="0.60" stroke="#5bdfa8" stroke-opacity="0.60" stroke-width="1.7"/><circle cx="545.91" cy="606.69" r="8.8" fill="#60ccc1" fill-opacity="0.60" stroke="#60ccc1" stroke-opacity="0.60" stroke-width="1.7"/><circle cx="440.82" cy="526.92" r="8.8" fill="#60ccc1" fill-opacity="0.60" stroke="#60ccc1" stroke-opacity="0.60" stroke-width="1.7"/><circle cx="599.96" cy="540.99" r="8.8" fill="#53acea" fill-opacity="0.60" stroke="#53acea" stroke-opacity="0.60" stroke-width="1.7"/><circle cx="596.95" cy="573.84" r="8.8" fill="#476fbe" fill-opacity="0.60" stroke="#476fbe" stroke-opacity="0.60" stroke-width="1.7"/><circle cx="518.89" cy="540.99" r="8.8" fill="#4765af" fill-opacity="0.60" stroke="#4765af" stroke-opacity="0.60" stroke-width="1.7"/><circle cx="596.95" cy="526.92" r="8.8" fill="#5bdfa8" fill-opacity="0.60" stroke="#5bdfa8" stroke-opacity="0.60" stroke-width="1.7"/><circle cx="566.93" cy="630.15" r="8.8" fill="#4678cc" fill-opacity="0.60" stroke="#4678cc" stroke-opacity="0.60" stroke-width="1.7"/><circle cx="497.87" cy="564.46" r="8.8" fill="#5ed9b0" fill-opacity="0.60" stroke="#5ed9b0" stroke-opacity="0.60" stroke-width="1.7"/><circle cx="566.93" cy="578.53" r="8.8" fill="#4582da" fill-opacity="0.60" stroke="#4582da" stroke-opacity="0.60" stroke-width="1.7"/><circle cx="608.96" cy="526.92" r="8.8" fill="#5ed9b0" fill-opacity="0.60" stroke="#5ed9b0" stroke-opacity="0.60" stroke-width="1.7"/><circle cx="473.85" cy="616.08" r="8.8" fill="#4488e2" fill-opacity="0.60" stroke="#4488e2" stroke-opacity="0.60" stroke-width="1.7"/><circle cx="557.92" cy="423.68" r="8.8" fill="#4bf883" fill-opacity="0.60" stroke="#4bf883" stroke-opacity="0.60" stroke-width="1.7"/><circle cx="545.91" cy="475.30" r="8.8" fill="#5bdfa8" fill-opacity="0.60" stroke="#5bdfa8" stroke-opacity="0.60" stroke-width="1.7"/><circle cx="648.00" cy="545.69" r="8.8" fill="#53acea" fill-opacity="0.60" stroke="#53acea" stroke-opacity="0.60" stroke-width="1.7"/><circle cx="509.88" cy="508.15" r="8.8" fill="#4582da" fill-opacity="0.60" stroke="#4582da" stroke-opacity="0.60" stroke-width="1.7"/><circle cx="575.93" cy="517.53" r="8.8" fill="#c3e651" fill-opacity="0.60" stroke="#c3e651" stroke-opacity="0.60" stroke-width="1.7"/><circle cx="476.85" cy="569.15" r="8.8" fill="#4765af" fill-opacity="0.60" stroke="#4765af" stroke-opacity="0.60" stroke-width="1.7"/><circle cx="605.96" cy="550.38" r="8.8" fill="#5ed9b0" fill-opacity="0.60" stroke="#5ed9b0" stroke-opacity="0.60" stroke-width="1.7"/><circle cx="461.84" cy="545.69" r="8.8" fill="#465ba1" fill-opacity="0.60" stroke="#465ba1" stroke-opacity="0.60" stroke-width="1.7"/><circle cx="705.05" cy="489.38" r="8.8" fill="#95ef6b" fill-opacity="0.60" stroke="#95ef6b" stroke-opacity="0.60" stroke-width="1.7"/><circle cx="491.86" cy="620.77" r="8.8" fill="#434886" fill-opacity="0.60" stroke="#434886" stroke-opacity="0.60" stroke-width="1.7"/><circle cx="569.93" cy="531.61" r="8.8" fill="#bbe856" fill-opacity="0.60" stroke="#bbe856" stroke-opacity="0.60" stroke-width="1.7"/><circle cx="614.97" cy="522.23" r="8.8" fill="#3f9cfd" fill-opacity="0.60" stroke="#3f9cfd" stroke-opacity="0.60" stroke-width="1.7"/><circle cx="506.88" cy="526.92" r="8.8" fill="#424480" fill-opacity="0.60" stroke="#424480" stroke-opacity="0.60" stroke-width="1.7"/><circle cx="461.84" cy="573.84" r="8.8" fill="#449ff9" fill-opacity="0.60" stroke="#449ff9" stroke-opacity="0.60" stroke-width="1.7"/><circle cx="651.00" cy="418.99" r="8.8" fill="#4bf883" fill-opacity="0.60" stroke="#4bf883" stroke-opacity="0.60" stroke-width="1.7"/><circle cx="569.93" cy="583.23" r="8.8" fill="#4da5f1" fill-opacity="0.60" stroke="#4da5f1" stroke-opacity="0.60" stroke-width="1.7"/><circle cx="584.94" cy="526.92" r="8.8" fill="#7ef375" fill-opacity="0.60" stroke="#7ef375" stroke-opacity="0.60" stroke-width="1.7"/><circle cx="431.81" cy="573.84" r="8.8" fill="#449ff9" fill-opacity="0.60" stroke="#449ff9" stroke-opacity="0.60" stroke-width="1.7"/><circle cx="641.99" cy="498.76" r="8.8" fill="#53ec95" fill-opacity="0.60" stroke="#53ec95" stroke-opacity="0.60" stroke-width="1.7"/><circle cx="416.80" cy="564.46" r="8.8" fill="#3e366c" fill-opacity="0.60" stroke="#3e366c" stroke-opacity="0.60" stroke-width="1.7"/><circle cx="623.98" cy="540.99" r="8.8" fill="#4488e2" fill-opacity="0.60" stroke="#4488e2" stroke-opacity="0.60" stroke-width="1.7"/><circle cx="551.91" cy="592.61" r="8.8" fill="#4765af" fill-opacity="0.60" stroke="#4765af" stroke-opacity="0.60" stroke-width="1.7"/><circle cx="599.96" cy="531.61" r="8.8" fill="#60ccc1" fill-opacity="0.60" stroke="#60ccc1" stroke-opacity="0.60" stroke-width="1.7"/><circle cx="476.85" cy="634.84" r="8.8" fill="#3b2d5f" fill-opacity="0.60" stroke="#3b2d5f" stroke-opacity="0.60" stroke-width="1.7"/><circle cx="509.88" cy="517.53" r="8.8" fill="#5fc5c9" fill-opacity="0.60" stroke="#5fc5c9" stroke-opacity="0.60" stroke-width="1.7"/><circle cx="452.83" cy="620.77" r="8.8" fill="#4765af" fill-opacity="0.60" stroke="#4765af" stroke-opacity="0.60" stroke-width="1.7"/><circle cx="620.97" cy="423.68" r="8.8" fill="#95ef6b" fill-opacity="0.60" stroke="#95ef6b" stroke-opacity="0.60" stroke-width="1.7"/><circle cx="509.88" cy="616.08" r="8.8" fill="#58b2e2" fill-opacity="0.60" stroke="#58b2e2" stroke-opacity="0.60" stroke-width="1.7"/><circle cx="614.97" cy="559.77" r="8.8" fill="#53ec95" fill-opacity="0.60" stroke="#53ec95" stroke-opacity="0.60" stroke-width="1.7"/><circle cx="473.85" cy="611.38" r="8.8" fill="#3b2d5f" fill-opacity="0.60" stroke="#3b2d5f" stroke-opacity="0.60" stroke-width="1.7"/><circle cx="629.98" cy="569.15" r="8.8" fill="#5bdfa8" fill-opacity="0.60" stroke="#5bdfa8" stroke-opacity="0.60" stroke-width="1.7"/><circle cx="446.82" cy="653.62" r="8.8" fill="#438de9" fill-opacity="0.60" stroke="#438de9" stroke-opacity="0.60" stroke-width="1.7"/><circle cx="614.97" cy="517.53" r="8.8" fill="#4df38c" fill-opacity="0.60" stroke="#4df38c" stroke-opacity="0.60" stroke-width="1.7"/><circle cx="458.83" cy="634.84" r="8.8" fill="#455294" fill-opacity="0.60" stroke="#455294" stroke-opacity="0.60" stroke-width="1.7"/><circle cx="635.99" cy="503.46" r="8.8" fill="#a0ed66" fill-opacity="0.60" stroke="#a0ed66" stroke-opacity="0.60" stroke-width="1.7"/><circle cx="386.77" cy="522.23" r="8.8" fill="#58b2e2" fill-opacity="0.60" stroke="#58b2e2" stroke-opacity="0.60" stroke-width="1.7"/><circle cx="572.93" cy="550.38" r="8.8" fill="#5ed9b0" fill-opacity="0.60" stroke="#5ed9b0" stroke-opacity="0.60" stroke-width="1.7"/><circle cx="569.93" cy="606.69" r="8.8" fill="#53acea" fill-opacity="0.60" stroke="#53acea" stroke-opacity="0.60" stroke-width="1.7"/><circle cx="756.09" cy="526.92" r="8.8" fill="#4bf883" fill-opacity="0.60" stroke="#4bf883" stroke-opacity="0.60" stroke-width="1.7"/><circle cx="446.82" cy="592.61" r="8.8" fill="#5ebfd2" fill-opacity="0.60" stroke="#5ebfd2" stroke-opacity="0.60" stroke-width="1.7"/><circle cx="666.01" cy="545.69" r="8.8" fill="#70f47a" fill-opacity="0.60" stroke="#70f47a" stroke-opacity="0.60" stroke-width="1.7"/><circle cx="608.96" cy="625.46" r="8.8" fill="#5ebfd2" fill-opacity="0.60" stroke="#5ebfd2" stroke-opacity="0.60" stroke-width="1.7"/><circle cx="497.87" cy="503.46" r="8.8" fill="#5ed9b0" fill-opacity="0.60" stroke="#5ed9b0" stroke-opacity="0.60" stroke-width="1.7"/><circle cx="467.84" cy="658.31" r="8.8" fill="#53acea" fill-opacity="0.60" stroke="#53acea" stroke-opacity="0.60" stroke-width="1.7"/><circle cx="644.99" cy="517.53" r="8.8" fill="#58e69f" fill-opacity="0.60" stroke="#58e69f" stroke-opacity="0.60" stroke-width="1.7"/><circle cx="419.80" cy="606.69" r="8.8" fill="#476fbe" fill-opacity="0.60" stroke="#476fbe" stroke-opacity="0.60" stroke-width="1.7"/><circle cx="669.02" cy="587.92" r="8.8" fill="#cae44b" fill-opacity="0.60" stroke="#cae44b" stroke-opacity="0.60" stroke-width="1.7"/><circle cx="482.85" cy="531.61" r="8.8" fill="#60ccc1" fill-opacity="0.60" stroke="#60ccc1" stroke-opacity="0.60" stroke-width="1.7"/><circle cx="434.81" cy="503.46" r="8.8" fill="#60f67e" fill-opacity="0.60" stroke="#60f67e" stroke-opacity="0.60" stroke-width="1.7"/><circle cx="500.87" cy="578.53" r="8.8" fill="#438de9" fill-opacity="0.60" stroke="#438de9" stroke-opacity="0.60" stroke-width="1.7"/><circle cx="620.97" cy="461.22" r="8.8" fill="#53acea" fill-opacity="0.60" stroke="#53acea" stroke-opacity="0.60" stroke-width="1.7"/><circle cx="470.84" cy="498.76" r="8.8" fill="#60ccc1" fill-opacity="0.60" stroke="#60ccc1" stroke-opacity="0.60" stroke-width="1.7"/><circle cx="488.86" cy="540.99" r="8.8" fill="#4da5f1" fill-opacity="0.60" stroke="#4da5f1" stroke-opacity="0.60" stroke-width="1.7"/><circle cx="530.90" cy="512.84" r="8.8" fill="#5bdfa8" fill-opacity="0.60" stroke="#5bdfa8" stroke-opacity="0.60" stroke-width="1.7"/><circle cx="548.91" cy="531.61" r="8.8" fill="#58b2e2" fill-opacity="0.60" stroke="#58b2e2" stroke-opacity="0.60" stroke-width="1.7"/><circle cx="452.83" cy="569.15" r="8.8" fill="#53acea" fill-opacity="0.60" stroke="#53acea" stroke-opacity="0.60" stroke-width="1.7"/><circle cx="614.97" cy="564.46" r="8.8" fill="#7ef375" fill-opacity="0.60" stroke="#7ef375" stroke-opacity="0.60" stroke-width="1.7"/><circle cx="401.78" cy="611.38" r="8.8" fill="#4097f8" fill-opacity="0.60" stroke="#4097f8" stroke-opacity="0.60" stroke-width="1.7"/><circle cx="569.93" cy="564.46" r="8.8" fill="#a0ed66" fill-opacity="0.60" stroke="#a0ed66" stroke-opacity="0.60" stroke-width="1.7"/><circle cx="467.84" cy="602.00" r="8.8" fill="#4582da" fill-opacity="0.60" stroke="#4582da" stroke-opacity="0.60" stroke-width="1.7"/><circle cx="605.96" cy="526.92" r="8.8" fill="#7ef375" fill-opacity="0.60" stroke="#7ef375" stroke-opacity="0.60" stroke-width="1.7"/><circle cx="524.89" cy="540.99" r="8.8" fill="#5ebfd2" fill-opacity="0.60" stroke="#5ebfd2" stroke-opacity="0.60" stroke-width="1.7"/><circle cx="590.95" cy="545.69" r="8.8" fill="#8af170" fill-opacity="0.60" stroke="#8af170" stroke-opacity="0.60" stroke-width="1.7"/><circle cx="374.76" cy="658.31" r="8.8" fill="#3e366c" fill-opacity="0.60" stroke="#3e366c" stroke-opacity="0.60" stroke-width="1.7"/><circle cx="678.02" cy="545.69" r="8.8" fill="#4df38c" fill-opacity="0.60" stroke="#4df38c" stroke-opacity="0.60" stroke-width="1.7"/><circle cx="431.81" cy="573.84" r="8.8" fill="#5fc2ce" fill-opacity="0.60" stroke="#5fc2ce" stroke-opacity="0.60" stroke-width="1.7"/><circle cx="611.97" cy="475.30" r="8.8" fill="#cee348" fill-opacity="0.60" stroke="#cee348" stroke-opacity="0.60" stroke-width="1.7"/><circle cx="512.88" cy="663.00" r="8.8" fill="#45569b" fill-opacity="0.60" stroke="#45569b" stroke-opacity="0.60" stroke-width="1.7"/><circle cx="515.88" cy="475.30" r="8.8" fill="#70f47a" fill-opacity="0.60" stroke="#70f47a" stroke-opacity="0.60" stroke-width="1.7"/><circle cx="518.89" cy="540.99" r="8.8" fill="#403b72" fill-opacity="0.60" stroke="#403b72" stroke-opacity="0.60" stroke-width="1.7"/><circle cx="572.93" cy="526.92" r="8.8" fill="#53acea" fill-opacity="0.60" stroke="#53acea" stroke-opacity="0.60" stroke-width="1.7"/><circle cx="539.90" cy="606.69" r="8.8" fill="#5fc5c9" fill-opacity="0.60" stroke="#5fc5c9" stroke-opacity="0.60" stroke-width="1.7"/><circle cx="527.89" cy="475.30" r="8.8" fill="#5ed9b0" fill-opacity="0.60" stroke="#5ed9b0" stroke-opacity="0.60" stroke-width="1.7"/><circle cx="524.89" cy="616.08" r="8.8" fill="#476ab6" fill-opacity="0.60" stroke="#476ab6" stroke-opacity="0.60" stroke-width="1.7"/><circle cx="678.02" cy="522.23" r="8.8" fill="#d5e142" fill-opacity="0.60" stroke="#d5e142" stroke-opacity="0.60" stroke-width="1.7"/><circle cx="524.89" cy="639.54" r="8.8" fill="#60cfbd" fill-opacity="0.60" stroke="#60cfbd" stroke-opacity="0.60" stroke-width="1.7"/><circle cx="750.09" cy="461.22" r="8.8" fill="#bbe856" fill-opacity="0.60" stroke="#bbe856" stroke-opacity="0.60" stroke-width="1.7"/><circle cx="572.93" cy="583.23" r="8.8" fill="#476fbe" fill-opacity="0.60" stroke="#476fbe" stroke-opacity="0.60" stroke-width="1.7"/><circle cx="648.00" cy="498.76" r="8.8" fill="#77f477" fill-opacity="0.60" stroke="#77f477" stroke-opacity="0.60" stroke-width="1.7"/><circle cx="569.93" cy="442.45" r="8.8" fill="#5ed9b0" fill-opacity="0.60" stroke="#5ed9b0" stroke-opacity="0.60" stroke-width="1.7"/><circle cx="663.01" cy="555.07" r="8.8" fill="#50f091" fill-opacity="0.60" stroke="#50f091" stroke-opacity="0.60" stroke-width="1.7"/><circle cx="539.90" cy="616.08" r="8.8" fill="#3e366c" fill-opacity="0.60" stroke="#3e366c" stroke-opacity="0.60" stroke-width="1.7"/><circle cx="500.87" cy="451.84" r="8.8" fill="#60c9c5" fill-opacity="0.60" stroke="#60c9c5" stroke-opacity="0.60" stroke-width="1.7"/><circle cx="452.83" cy="616.08" r="8.8" fill="#438de9" fill-opacity="0.60" stroke="#438de9" stroke-opacity="0.60" stroke-width="1.7"/><circle cx="614.97" cy="540.99" r="8.8" fill="#4488e2" fill-opacity="0.60" stroke="#4488e2" stroke-opacity="0.60" stroke-width="1.7"/><circle cx="467.84" cy="606.69" r="8.8" fill="#4765af" fill-opacity="0.60" stroke="#4765af" stroke-opacity="0.60" stroke-width="1.7"/><circle cx="512.88" cy="484.68" r="8.8" fill="#4da5f1" fill-opacity="0.60" stroke="#4da5f1" stroke-opacity="0.60" stroke-width="1.7"/><circle cx="587.95" cy="616.08" r="8.8" fill="#449ff9" fill-opacity="0.60" stroke="#449ff9" stroke-opacity="0.60" stroke-width="1.7"/><circle cx="623.98" cy="545.69" r="8.8" fill="#5fd5b5" fill-opacity="0.60" stroke="#5fd5b5" stroke-opacity="0.60" stroke-width="1.7"/><circle cx="437.82" cy="667.69" r="8.8" fill="#455294" fill-opacity="0.60" stroke="#455294" stroke-opacity="0.60" stroke-width="1.7"/><circle cx="599.96" cy="522.23" r="8.8" fill="#58e69f" fill-opacity="0.60" stroke="#58e69f" stroke-opacity="0.60" stroke-width="1.7"/><circle cx="545.91" cy="587.92" r="8.8" fill="#467dd3" fill-opacity="0.60" stroke="#467dd3" stroke-opacity="0.60" stroke-width="1.7"/><circle cx="626.98" cy="555.07" r="8.8" fill="#7ef375" fill-opacity="0.60" stroke="#7ef375" stroke-opacity="0.60" stroke-width="1.7"/><circle cx="551.91" cy="611.38" r="8.8" fill="#455294" fill-opacity="0.60" stroke="#455294" stroke-opacity="0.60" stroke-width="1.7"/><circle cx="705.05" cy="569.15" r="8.8" fill="#58e69f" fill-opacity="0.60" stroke="#58e69f" stroke-opacity="0.60" stroke-width="1.7"/><circle cx="536.90" cy="573.84" r="8.8" fill="#4488e2" fill-opacity="0.60" stroke="#4488e2" stroke-opacity="0.60" stroke-width="1.7"/><circle cx="675.02" cy="512.84" r="8.8" fill="#4da5f1" fill-opacity="0.60" stroke="#4da5f1" stroke-opacity="0.60" stroke-width="1.7"/><circle cx="485.86" cy="545.69" r="8.8" fill="#4da5f1" fill-opacity="0.60" stroke="#4da5f1" stroke-opacity="0.60" stroke-width="1.7"/><circle cx="506.88" cy="545.69" r="8.8" fill="#a4ec63" fill-opacity="0.60" stroke="#a4ec63" stroke-opacity="0.60" stroke-width="1.7"/><circle cx="524.89" cy="587.92" r="8.8" fill="#3f9cfd" fill-opacity="0.60" stroke="#3f9cfd" stroke-opacity="0.60" stroke-width="1.7"/><circle cx="614.97" cy="592.61" r="8.8" fill="#5ed9b0" fill-opacity="0.60" stroke="#5ed9b0" stroke-opacity="0.60" stroke-width="1.7"/><circle cx="449.83" cy="592.61" r="8.8" fill="#476ab6" fill-opacity="0.60" stroke="#476ab6" stroke-opacity="0.60" stroke-width="1.7"/><circle cx="587.95" cy="470.61" r="8.8" fill="#5ae2a3" fill-opacity="0.60" stroke="#5ae2a3" stroke-opacity="0.60" stroke-width="1.7"/><circle cx="491.86" cy="639.54" r="8.8" fill="#4097f8" fill-opacity="0.60" stroke="#4097f8" stroke-opacity="0.60" stroke-width="1.7"/><circle cx="572.93" cy="573.84" r="8.8" fill="#70f47a" fill-opacity="0.60" stroke="#70f47a" stroke-opacity="0.60" stroke-width="1.7"/><circle cx="587.95" cy="611.38" r="8.8" fill="#4097f8" fill-opacity="0.60" stroke="#4097f8" stroke-opacity="0.60" stroke-width="1.7"/><circle cx="599.96" cy="606.69" r="8.8" fill="#49a2f5" fill-opacity="0.60" stroke="#49a2f5" stroke-opacity="0.60" stroke-width="1.7"/><circle cx="344.73" cy="686.46" r="8.8" fill="#455294" fill-opacity="0.60" stroke="#455294" stroke-opacity="0.60" stroke-width="1.7"/><circle cx="602.96" cy="616.08" r="8.8" fill="#5fc2ce" fill-opacity="0.60" stroke="#5fc2ce" stroke-opacity="0.60" stroke-width="1.7"/><circle cx="500.87" cy="625.46" r="8.8" fill="#434886" fill-opacity="0.60" stroke="#434886" stroke-opacity="0.60" stroke-width="1.7"/><circle cx="551.91" cy="536.30" r="8.8" fill="#5cb8da" fill-opacity="0.60" stroke="#5cb8da" stroke-opacity="0.60" stroke-width="1.7"/><circle cx="557.92" cy="540.99" r="8.8" fill="#70f47a" fill-opacity="0.60" stroke="#70f47a" stroke-opacity="0.60" stroke-width="1.7"/><circle cx="479.85" cy="550.38" r="8.8" fill="#49a2f5" fill-opacity="0.60" stroke="#49a2f5" stroke-opacity="0.60" stroke-width="1.7"/><circle cx="461.84" cy="578.53" r="8.8" fill="#449ff9" fill-opacity="0.60" stroke="#449ff9" stroke-opacity="0.60" stroke-width="1.7"/><circle cx="515.88" cy="564.46" r="8.8" fill="#5fc5c9" fill-opacity="0.60" stroke="#5fc5c9" stroke-opacity="0.60" stroke-width="1.7"/><circle cx="461.84" cy="611.38" r="8.8" fill="#5ebfd2" fill-opacity="0.60" stroke="#5ebfd2" stroke-opacity="0.60" stroke-width="1.7"/><circle cx="626.98" cy="545.69" r="8.8" fill="#58e69f" fill-opacity="0.60" stroke="#58e69f" stroke-opacity="0.60" stroke-width="1.7"/><circle cx="765.10" cy="794.39" r="8.8" fill="#a9ec61" fill-opacity="0.60" stroke="#a9ec61" stroke-opacity="0.60" stroke-width="1.7"/><circle cx="882.20" cy="648.92" r="8.8" fill="#db4e10" fill-opacity="0.60" stroke="#db4e10" stroke-opacity="0.60" stroke-width="1.7"/><circle cx="843.17" cy="752.16" r="8.8" fill="#a0ed66" fill-opacity="0.60" stroke="#a0ed66" stroke-opacity="0.60" stroke-width="1.7"/><circle cx="882.20" cy="700.54" r="8.8" fill="#db4e10" fill-opacity="0.60" stroke="#db4e10" stroke-opacity="0.60" stroke-width="1.7"/><circle cx="810.14" cy="733.39" r="8.8" fill="#f0811a" fill-opacity="0.60" stroke="#f0811a" stroke-opacity="0.60" stroke-width="1.7"/><circle cx="777.11" cy="780.31" r="8.8" fill="#b2ea5c" fill-opacity="0.60" stroke="#b2ea5c" stroke-opacity="0.60" stroke-width="1.7"/><circle cx="744.08" cy="728.69" r="8.8" fill="#d9e03f" fill-opacity="0.60" stroke="#d9e03f" stroke-opacity="0.60" stroke-width="1.7"/><circle cx="783.11" cy="695.85" r="8.8" fill="#eda524" fill-opacity="0.60" stroke="#eda524" stroke-opacity="0.60" stroke-width="1.7"/><circle cx="681.03" cy="785.00" r="8.8" fill="#95ef6b" fill-opacity="0.60" stroke="#95ef6b" stroke-opacity="0.60" stroke-width="1.7"/><circle cx="786.12" cy="691.15" r="8.8" fill="#ecad27" fill-opacity="0.60" stroke="#ecad27" stroke-opacity="0.60" stroke-width="1.7"/><circle cx="608.96" cy="770.93" r="8.8" fill="#c3e651" fill-opacity="0.60" stroke="#c3e651" stroke-opacity="0.60" stroke-width="1.7"/><circle cx="852.17" cy="658.31" r="8.8" fill="#f06213" fill-opacity="0.60" stroke="#f06213" stroke-opacity="0.60" stroke-width="1.7"/><circle cx="747.08" cy="770.93" r="8.8" fill="#c3e651" fill-opacity="0.60" stroke="#c3e651" stroke-opacity="0.60" stroke-width="1.7"/><circle cx="834.16" cy="728.69" r="8.8" fill="#c23d0d" fill-opacity="0.60" stroke="#c23d0d" stroke-opacity="0.60" stroke-width="1.7"/><circle cx="756.09" cy="728.69" r="8.8" fill="#60f67e" fill-opacity="0.60" stroke="#60f67e" stroke-opacity="0.60" stroke-width="1.7"/><circle cx="861.18" cy="677.08" r="8.8" fill="#c23d0d" fill-opacity="0.60" stroke="#c23d0d" stroke-opacity="0.60" stroke-width="1.7"/><circle cx="641.99" cy="780.31" r="8.8" fill="#4bf883" fill-opacity="0.60" stroke="#4bf883" stroke-opacity="0.60" stroke-width="1.7"/><circle cx="858.18" cy="700.54" r="8.8" fill="#7a0403" fill-opacity="0.60" stroke="#7a0403" stroke-opacity="0.60" stroke-width="1.7"/><circle cx="768.10" cy="733.39" r="8.8" fill="#d9e03f" fill-opacity="0.60" stroke="#d9e03f" stroke-opacity="0.60" stroke-width="1.7"/><circle cx="843.17" cy="705.23" r="8.8" fill="#ef8a1c" fill-opacity="0.60" stroke="#ef8a1c" stroke-opacity="0.60" stroke-width="1.7"/><circle cx="888.21" cy="742.77" r="8.8" fill="#db4e10" fill-opacity="0.60" stroke="#db4e10" stroke-opacity="0.60" stroke-width="1.7"/><circle cx="735.07" cy="733.39" r="8.8" fill="#e7c62f" fill-opacity="0.60" stroke="#e7c62f" stroke-opacity="0.60" stroke-width="1.7"/><circle cx="777.11" cy="733.39" r="8.8" fill="#95ef6b" fill-opacity="0.60" stroke="#95ef6b" stroke-opacity="0.60" stroke-width="1.7"/><circle cx="771.10" cy="672.38" r="8.8" fill="#e9be2c" fill-opacity="0.60" stroke="#e9be2c" stroke-opacity="0.60" stroke-width="1.7"/><circle cx="669.02" cy="799.08" r="8.8" fill="#e7c62f" fill-opacity="0.60" stroke="#e7c62f" stroke-opacity="0.60" stroke-width="1.7"/><circle cx="765.10" cy="705.23" r="8.8" fill="#ebb629" fill-opacity="0.60" stroke="#ebb629" stroke-opacity="0.60" stroke-width="1.7"/><circle cx="717.06" cy="742.77" r="8.8" fill="#4df38c" fill-opacity="0.60" stroke="#4df38c" stroke-opacity="0.60" stroke-width="1.7"/><circle cx="816.14" cy="709.92" r="8.8" fill="#e45311" fill-opacity="0.60" stroke="#e45311" stroke-opacity="0.60" stroke-width="1.7"/><circle cx="828.15" cy="742.77" r="8.8" fill="#bbe856" fill-opacity="0.60" stroke="#bbe856" stroke-opacity="0.60" stroke-width="1.7"/><circle cx="882.20" cy="695.85" r="8.8" fill="#f06213" fill-opacity="0.60" stroke="#f06213" stroke-opacity="0.60" stroke-width="1.7"/><circle cx="801.13" cy="695.85" r="8.8" fill="#ee9c21" fill-opacity="0.60" stroke="#ee9c21" stroke-opacity="0.60" stroke-width="1.7"/><circle cx="666.01" cy="747.47" r="8.8" fill="#cae44b" fill-opacity="0.60" stroke="#cae44b" stroke-opacity="0.60" stroke-width="1.7"/><circle cx="735.07" cy="733.39" r="8.8" fill="#e9be2c" fill-opacity="0.60" stroke="#e9be2c" stroke-opacity="0.60" stroke-width="1.7"/><circle cx="1170.45" cy="616.08" r="8.8" fill="#a12709" fill-opacity="0.60" stroke="#a12709" stroke-opacity="0.60" stroke-width="1.7"/><circle cx="855.18" cy="719.31" r="8.8" fill="#ecad27" fill-opacity="0.60" stroke="#ecad27" stroke-opacity="0.60" stroke-width="1.7"/><circle cx="834.16" cy="648.92" r="8.8" fill="#f0811a" fill-opacity="0.60" stroke="#f0811a" stroke-opacity="0.60" stroke-width="1.7"/><circle cx="660.01" cy="770.93" r="8.8" fill="#e5ce32" fill-opacity="0.60" stroke="#e5ce32" stroke-opacity="0.60" stroke-width="1.7"/><circle cx="714.05" cy="602.00" r="8.8" fill="#ee9c21" fill-opacity="0.60" stroke="#ee9c21" stroke-opacity="0.60" stroke-width="1.7"/><circle cx="702.04" cy="775.62" r="8.8" fill="#8af170" fill-opacity="0.60" stroke="#8af170" stroke-opacity="0.60" stroke-width="1.7"/><circle cx="843.17" cy="677.08" r="8.8" fill="#ef8a1c" fill-opacity="0.60" stroke="#ef8a1c" stroke-opacity="0.60" stroke-width="1.7"/><circle cx="663.01" cy="770.93" r="8.8" fill="#5bdfa8" fill-opacity="0.60" stroke="#5bdfa8" stroke-opacity="0.60" stroke-width="1.7"/><circle cx="870.19" cy="663.00" r="8.8" fill="#db4e10" fill-opacity="0.60" stroke="#db4e10" stroke-opacity="0.60" stroke-width="1.7"/><circle cx="741.08" cy="770.93" r="8.8" fill="#7ef375" fill-opacity="0.60" stroke="#7ef375" stroke-opacity="0.60" stroke-width="1.7"/><circle cx="870.19" cy="709.92" r="8.8" fill="#d2e245" fill-opacity="0.60" stroke="#d2e245" stroke-opacity="0.60" stroke-width="1.7"/><circle cx="897.21" cy="667.69" r="8.8" fill="#f06213" fill-opacity="0.60" stroke="#f06213" stroke-opacity="0.60" stroke-width="1.7"/><circle cx="690.03" cy="761.54" r="8.8" fill="#e3d735" fill-opacity="0.60" stroke="#e3d735" stroke-opacity="0.60" stroke-width="1.7"/><circle cx="747.08" cy="761.54" r="8.8" fill="#60f67e" fill-opacity="0.60" stroke="#60f67e" stroke-opacity="0.60" stroke-width="1.7"/><circle cx="897.21" cy="667.69" r="8.8" fill="#f0811a" fill-opacity="0.60" stroke="#f0811a" stroke-opacity="0.60" stroke-width="1.7"/><circle cx="729.07" cy="789.70" r="8.8" fill="#ebb629" fill-opacity="0.60" stroke="#ebb629" stroke-opacity="0.60" stroke-width="1.7"/><circle cx="738.08" cy="672.38" r="8.8" fill="#ef931f" fill-opacity="0.60" stroke="#ef931f" stroke-opacity="0.60" stroke-width="1.7"/><circle cx="780.11" cy="747.47" r="8.8" fill="#e0dd38" fill-opacity="0.60" stroke="#e0dd38" stroke-opacity="0.60" stroke-width="1.7"/><circle cx="837.16" cy="752.16" r="8.8" fill="#ef931f" fill-opacity="0.60" stroke="#ef931f" stroke-opacity="0.60" stroke-width="1.7"/><circle cx="735.07" cy="738.08" r="8.8" fill="#95ef6b" fill-opacity="0.60" stroke="#95ef6b" stroke-opacity="0.60" stroke-width="1.7"/><circle cx="885.20" cy="709.92" r="8.8" fill="#e7c62f" fill-opacity="0.60" stroke="#e7c62f" stroke-opacity="0.60" stroke-width="1.7"/><circle cx="777.11" cy="738.08" r="8.8" fill="#e3d735" fill-opacity="0.60" stroke="#e3d735" stroke-opacity="0.60" stroke-width="1.7"/><circle cx="732.07" cy="691.15" r="8.8" fill="#e9be2c" fill-opacity="0.60" stroke="#e9be2c" stroke-opacity="0.60" stroke-width="1.7"/><circle cx="696.04" cy="761.54" r="8.8" fill="#7ef375" fill-opacity="0.60" stroke="#7ef375" stroke-opacity="0.60" stroke-width="1.7"/><circle cx="747.08" cy="709.92" r="8.8" fill="#e7c62f" fill-opacity="0.60" stroke="#e7c62f" stroke-opacity="0.60" stroke-width="1.7"/><circle cx="678.02" cy="733.39" r="8.8" fill="#a0ed66" fill-opacity="0.60" stroke="#a0ed66" stroke-opacity="0.60" stroke-width="1.7"/><circle cx="894.21" cy="695.85" r="8.8" fill="#f06213" fill-opacity="0.60" stroke="#f06213" stroke-opacity="0.60" stroke-width="1.7"/><circle cx="741.08" cy="766.23" r="8.8" fill="#60f67e" fill-opacity="0.60" stroke="#60f67e" stroke-opacity="0.60" stroke-width="1.7"/><circle cx="768.10" cy="714.62" r="8.8" fill="#ef931f" fill-opacity="0.60" stroke="#ef931f" stroke-opacity="0.60" stroke-width="1.7"/><circle cx="753.09" cy="761.54" r="8.8" fill="#95ef6b" fill-opacity="0.60" stroke="#95ef6b" stroke-opacity="0.60" stroke-width="1.7"/><circle cx="1011.31" cy="677.08" r="8.8" fill="#e45311" fill-opacity="0.60" stroke="#e45311" stroke-opacity="0.60" stroke-width="1.7"/><circle cx="756.09" cy="747.47" r="8.8" fill="#cae44b" fill-opacity="0.60" stroke="#cae44b" stroke-opacity="0.60" stroke-width="1.7"/><circle cx="876.19" cy="625.46" r="8.8" fill="#db4e10" fill-opacity="0.60" stroke="#db4e10" stroke-opacity="0.60" stroke-width="1.7"/><circle cx="768.10" cy="738.08" r="8.8" fill="#c3e651" fill-opacity="0.60" stroke="#c3e651" stroke-opacity="0.60" stroke-width="1.7"/><circle cx="867.19" cy="653.62" r="8.8" fill="#cb430e" fill-opacity="0.60" stroke="#cb430e" stroke-opacity="0.60" stroke-width="1.7"/><circle cx="687.03" cy="747.47" r="8.8" fill="#cae44b" fill-opacity="0.60" stroke="#cae44b" stroke-opacity="0.60" stroke-width="1.7"/><circle cx="903.22" cy="709.92" r="8.8" fill="#f06213" fill-opacity="0.60" stroke="#f06213" stroke-opacity="0.60" stroke-width="1.7"/><circle cx="813.14" cy="709.92" r="8.8" fill="#d2e245" fill-opacity="0.60" stroke="#d2e245" stroke-opacity="0.60" stroke-width="1.7"/><circle cx="774.11" cy="681.77" r="8.8" fill="#e7c62f" fill-opacity="0.60" stroke="#e7c62f" stroke-opacity="0.60" stroke-width="1.7"/><circle cx="828.15" cy="681.77" r="8.8" fill="#ebb629" fill-opacity="0.60" stroke="#ebb629" stroke-opacity="0.60" stroke-width="1.7"/><circle cx="777.11" cy="719.31" r="8.8" fill="#eda524" fill-opacity="0.60" stroke="#eda524" stroke-opacity="0.60" stroke-width="1.7"/><circle cx="774.11" cy="709.92" r="8.8" fill="#cae44b" fill-opacity="0.60" stroke="#cae44b" stroke-opacity="0.60" stroke-width="1.7"/><circle cx="840.16" cy="663.00" r="8.8" fill="#cb430e" fill-opacity="0.60" stroke="#cb430e" stroke-opacity="0.60" stroke-width="1.7"/><circle cx="807.13" cy="747.47" r="8.8" fill="#bbe856" fill-opacity="0.60" stroke="#bbe856" stroke-opacity="0.60" stroke-width="1.7"/><circle cx="915.23" cy="648.92" r="8.8" fill="#a92c0a" fill-opacity="0.60" stroke="#a92c0a" stroke-opacity="0.60" stroke-width="1.7"/><circle cx="738.08" cy="766.23" r="8.8" fill="#d2e245" fill-opacity="0.60" stroke="#d2e245" stroke-opacity="0.60" stroke-width="1.7"/><circle cx="738.08" cy="644.23" r="8.8" fill="#b2320b" fill-opacity="0.60" stroke="#b2320b" stroke-opacity="0.60" stroke-width="1.7"/><circle cx="855.18" cy="733.39" r="8.8" fill="#bfe754" fill-opacity="0.60" stroke="#bfe754" stroke-opacity="0.60" stroke-width="1.7"/><circle cx="957.27" cy="681.77" r="8.8" fill="#f07717" fill-opacity="0.60" stroke="#f07717" stroke-opacity="0.60" stroke-width="1.7"/><circle cx="804.13" cy="728.69" r="8.8" fill="#cee348" fill-opacity="0.60" stroke="#cee348" stroke-opacity="0.60" stroke-width="1.7"/><circle cx="882.20" cy="667.69" r="8.8" fill="#ef8a1c" fill-opacity="0.60" stroke="#ef8a1c" stroke-opacity="0.60" stroke-width="1.7"/><circle cx="729.07" cy="766.23" r="8.8" fill="#d2e245" fill-opacity="0.60" stroke="#d2e245" stroke-opacity="0.60" stroke-width="1.7"/><circle cx="906.22" cy="602.00" r="8.8" fill="#ed5912" fill-opacity="0.60" stroke="#ed5912" stroke-opacity="0.60" stroke-width="1.7"/><circle cx="684.03" cy="738.08" r="8.8" fill="#bbe856" fill-opacity="0.60" stroke="#bbe856" stroke-opacity="0.60" stroke-width="1.7"/><circle cx="921.23" cy="747.47" r="8.8" fill="#ef931f" fill-opacity="0.60" stroke="#ef931f" stroke-opacity="0.60" stroke-width="1.7"/><circle cx="807.13" cy="756.85" r="8.8" fill="#e2db36" fill-opacity="0.60" stroke="#e2db36" stroke-opacity="0.60" stroke-width="1.7"/><circle cx="945.25" cy="616.08" r="8.8" fill="#f06213" fill-opacity="0.60" stroke="#f06213" stroke-opacity="0.60" stroke-width="1.7"/><circle cx="807.13" cy="709.92" r="8.8" fill="#e5ce32" fill-opacity="0.60" stroke="#e5ce32" stroke-opacity="0.60" stroke-width="1.7"/><circle cx="948.26" cy="611.38" r="8.8" fill="#f0811a" fill-opacity="0.60" stroke="#f0811a" stroke-opacity="0.60" stroke-width="1.7"/><circle cx="747.08" cy="733.39" r="8.8" fill="#d2e245" fill-opacity="0.60" stroke="#d2e245" stroke-opacity="0.60" stroke-width="1.7"/><circle cx="867.19" cy="658.31" r="8.8" fill="#e45311" fill-opacity="0.60" stroke="#e45311" stroke-opacity="0.60" stroke-width="1.7"/><circle cx="717.06" cy="724.00" r="8.8" fill="#e0dd38" fill-opacity="0.60" stroke="#e0dd38" stroke-opacity="0.60" stroke-width="1.7"/><circle cx="906.22" cy="677.08" r="8.8" fill="#eda524" fill-opacity="0.60" stroke="#eda524" stroke-opacity="0.60" stroke-width="1.7"/><circle cx="864.18" cy="672.38" r="8.8" fill="#e4d233" fill-opacity="0.60" stroke="#e4d233" stroke-opacity="0.60" stroke-width="1.7"/><circle cx="789.12" cy="728.69" r="8.8" fill="#e2db36" fill-opacity="0.60" stroke="#e2db36" stroke-opacity="0.60" stroke-width="1.7"/><circle cx="834.16" cy="738.08" r="8.8" fill="#bfe754" fill-opacity="0.60" stroke="#bfe754" stroke-opacity="0.60" stroke-width="1.7"/><circle cx="915.23" cy="639.54" r="8.8" fill="#ee9c21" fill-opacity="0.60" stroke="#ee9c21" stroke-opacity="0.60" stroke-width="1.7"/><circle cx="837.16" cy="709.92" r="8.8" fill="#e0dd38" fill-opacity="0.60" stroke="#e0dd38" stroke-opacity="0.60" stroke-width="1.7"/><circle cx="1059.35" cy="616.08" r="8.8" fill="#ed5912" fill-opacity="0.60" stroke="#ed5912" stroke-opacity="0.60" stroke-width="1.7"/><circle cx="798.13" cy="686.46" r="8.8" fill="#e6ca30" fill-opacity="0.60" stroke="#e6ca30" stroke-opacity="0.60" stroke-width="1.7"/><circle cx="855.18" cy="709.92" r="8.8" fill="#f06d15" fill-opacity="0.60" stroke="#f06d15" stroke-opacity="0.60" stroke-width="1.7"/><circle cx="801.13" cy="766.23" r="8.8" fill="#cee348" fill-opacity="0.60" stroke="#cee348" stroke-opacity="0.60" stroke-width="1.7"/><circle cx="786.12" cy="658.31" r="8.8" fill="#f06d15" fill-opacity="0.60" stroke="#f06d15" stroke-opacity="0.60" stroke-width="1.7"/><circle cx="632.98" cy="724.00" r="8.8" fill="#cae44b" fill-opacity="0.60" stroke="#cae44b" stroke-opacity="0.60" stroke-width="1.7"/><circle cx="984.29" cy="672.38" r="8.8" fill="#f06d15" fill-opacity="0.60" stroke="#f06d15" stroke-opacity="0.60" stroke-width="1.7"/><circle cx="681.03" cy="756.85" r="8.8" fill="#b6e959" fill-opacity="0.60" stroke="#b6e959" stroke-opacity="0.60" stroke-width="1.7"/><circle cx="825.15" cy="705.23" r="8.8" fill="#f06d15" fill-opacity="0.60" stroke="#f06d15" stroke-opacity="0.60" stroke-width="1.7"/><circle cx="897.21" cy="700.54" r="8.8" fill="#e7c62f" fill-opacity="0.60" stroke="#e7c62f" stroke-opacity="0.60" stroke-width="1.7"/><circle cx="876.19" cy="667.69" r="8.8" fill="#b2320b" fill-opacity="0.60" stroke="#b2320b" stroke-opacity="0.60" stroke-width="1.7"/><circle cx="687.03" cy="700.54" r="8.8" fill="#c3e651" fill-opacity="0.60" stroke="#c3e651" stroke-opacity="0.60" stroke-width="1.7"/><circle cx="927.24" cy="648.92" r="8.8" fill="#f06d15" fill-opacity="0.60" stroke="#f06d15" stroke-opacity="0.60" stroke-width="1.7"/><circle cx="768.10" cy="752.16" r="8.8" fill="#90f06d" fill-opacity="0.60" stroke="#90f06d" stroke-opacity="0.60" stroke-width="1.7"/><circle cx="1035.33" cy="663.00" r="8.8" fill="#c23d0d" fill-opacity="0.60" stroke="#c23d0d" stroke-opacity="0.60" stroke-width="1.7"/><circle cx="717.06" cy="677.08" r="8.8" fill="#e2db36" fill-opacity="0.60" stroke="#e2db36" stroke-opacity="0.60" stroke-width="1.7"/><circle cx="846.17" cy="653.62" r="8.8" fill="#a92c0a" fill-opacity="0.60" stroke="#a92c0a" stroke-opacity="0.60" stroke-width="1.7"/><circle cx="798.13" cy="770.93" r="8.8" fill="#e4d233" fill-opacity="0.60" stroke="#e4d233" stroke-opacity="0.60" stroke-width="1.7"/><circle cx="786.12" cy="742.77" r="8.8" fill="#e0dd38" fill-opacity="0.60" stroke="#e0dd38" stroke-opacity="0.60" stroke-width="1.7"/><circle cx="894.21" cy="677.08" r="8.8" fill="#d3480f" fill-opacity="0.60" stroke="#d3480f" stroke-opacity="0.60" stroke-width="1.7"/><circle cx="738.08" cy="719.31" r="8.8" fill="#eda524" fill-opacity="0.60" stroke="#eda524" stroke-opacity="0.60" stroke-width="1.7"/><circle cx="879.20" cy="658.31" r="8.8" fill="#f0811a" fill-opacity="0.60" stroke="#f0811a" stroke-opacity="0.60" stroke-width="1.7"/><circle cx="777.11" cy="573.84" r="8.8" fill="#4da5f1" fill-opacity="0.60" stroke="#4da5f1" stroke-opacity="0.60" stroke-width="1.7"/><circle cx="882.20" cy="498.76" r="8.8" fill="#5ed9b0" fill-opacity="0.60" stroke="#5ed9b0" stroke-opacity="0.60" stroke-width="1.7"/><circle cx="921.23" cy="512.84" r="8.8" fill="#5cb8da" fill-opacity="0.60" stroke="#5cb8da" stroke-opacity="0.60" stroke-width="1.7"/><circle cx="744.08" cy="536.30" r="8.8" fill="#50a8ee" fill-opacity="0.60" stroke="#50a8ee" stroke-opacity="0.60" stroke-width="1.7"/><circle cx="963.27" cy="484.68" r="8.8" fill="#5fc2ce" fill-opacity="0.60" stroke="#5fc2ce" stroke-opacity="0.60" stroke-width="1.7"/><circle cx="738.08" cy="578.53" r="8.8" fill="#5bdfa8" fill-opacity="0.60" stroke="#5bdfa8" stroke-opacity="0.60" stroke-width="1.7"/><circle cx="765.10" cy="559.77" r="8.8" fill="#4678cc" fill-opacity="0.60" stroke="#4678cc" stroke-opacity="0.60" stroke-width="1.7"/><circle cx="921.23" cy="559.77" r="8.8" fill="#5fc5c9" fill-opacity="0.60" stroke="#5fc5c9" stroke-opacity="0.60" stroke-width="1.7"/><circle cx="762.10" cy="526.92" r="8.8" fill="#4bf883" fill-opacity="0.60" stroke="#4bf883" stroke-opacity="0.60" stroke-width="1.7"/><circle cx="921.23" cy="479.99" r="8.8" fill="#5ebfd2" fill-opacity="0.60" stroke="#5ebfd2" stroke-opacity="0.60" stroke-width="1.7"/><circle cx="780.11" cy="578.53" r="8.8" fill="#60ccc1" fill-opacity="0.60" stroke="#60ccc1" stroke-opacity="0.60" stroke-width="1.7"/><circle cx="933.24" cy="461.22" r="8.8" fill="#60c9c5" fill-opacity="0.60" stroke="#60c9c5" stroke-opacity="0.60" stroke-width="1.7"/><circle cx="792.12" cy="602.00" r="8.8" fill="#5ebfd2" fill-opacity="0.60" stroke="#5ebfd2" stroke-opacity="0.60" stroke-width="1.7"/><circle cx="942.25" cy="564.46" r="8.8" fill="#53ec95" fill-opacity="0.60" stroke="#53ec95" stroke-opacity="0.60" stroke-width="1.7"/><circle cx="759.09" cy="611.38" r="8.8" fill="#56afe6" fill-opacity="0.60" stroke="#56afe6" stroke-opacity="0.60" stroke-width="1.7"/><circle cx="897.21" cy="494.07" r="8.8" fill="#53ec95" fill-opacity="0.60" stroke="#53ec95" stroke-opacity="0.60" stroke-width="1.7"/><circle cx="891.21" cy="475.30" r="8.8" fill="#4582da" fill-opacity="0.60" stroke="#4582da" stroke-opacity="0.60" stroke-width="1.7"/><circle cx="1122.41" cy="578.53" r="8.8" fill="#5ebfd2" fill-opacity="0.60" stroke="#5ebfd2" stroke-opacity="0.60" stroke-width="1.7"/><circle cx="774.11" cy="540.99" r="8.8" fill="#449ff9" fill-opacity="0.60" stroke="#449ff9" stroke-opacity="0.60" stroke-width="1.7"/><circle cx="858.18" cy="559.77" r="8.8" fill="#95ef6b" fill-opacity="0.60" stroke="#95ef6b" stroke-opacity="0.60" stroke-width="1.7"/><circle cx="654.00" cy="602.00" r="8.8" fill="#58b2e2" fill-opacity="0.60" stroke="#58b2e2" stroke-opacity="0.60" stroke-width="1.7"/><circle cx="837.16" cy="592.61" r="8.8" fill="#4097f8" fill-opacity="0.60" stroke="#4097f8" stroke-opacity="0.60" stroke-width="1.7"/><circle cx="678.02" cy="634.84" r="8.8" fill="#3e366c" fill-opacity="0.60" stroke="#3e366c" stroke-opacity="0.60" stroke-width="1.7"/><circle cx="900.22" cy="503.46" r="8.8" fill="#60ccc1" fill-opacity="0.60" stroke="#60ccc1" stroke-opacity="0.60" stroke-width="1.7"/><circle cx="783.11" cy="573.84" r="8.8" fill="#4582da" fill-opacity="0.60" stroke="#4582da" stroke-opacity="0.60" stroke-width="1.7"/><circle cx="942.25" cy="522.23" r="8.8" fill="#4bf883" fill-opacity="0.60" stroke="#4bf883" stroke-opacity="0.60" stroke-width="1.7"/><circle cx="897.21" cy="550.38" r="8.8" fill="#4097f8" fill-opacity="0.60" stroke="#4097f8" stroke-opacity="0.60" stroke-width="1.7"/><circle cx="867.19" cy="522.23" r="8.8" fill="#60ccc1" fill-opacity="0.60" stroke="#60ccc1" stroke-opacity="0.60" stroke-width="1.7"/><circle cx="774.11" cy="578.53" r="8.8" fill="#5ebfd2" fill-opacity="0.60" stroke="#5ebfd2" stroke-opacity="0.60" stroke-width="1.7"/><circle cx="966.27" cy="475.30" r="8.8" fill="#b2ea5c" fill-opacity="0.60" stroke="#b2ea5c" stroke-opacity="0.60" stroke-width="1.7"/><circle cx="608.96" cy="634.84" r="8.8" fill="#476fbe" fill-opacity="0.60" stroke="#476fbe" stroke-opacity="0.60" stroke-width="1.7"/><circle cx="1008.31" cy="437.76" r="8.8" fill="#7ef375" fill-opacity="0.60" stroke="#7ef375" stroke-opacity="0.60" stroke-width="1.7"/><circle cx="657.01" cy="630.15" r="8.8" fill="#438de9" fill-opacity="0.60" stroke="#438de9" stroke-opacity="0.60" stroke-width="1.7"/><circle cx="912.23" cy="531.61" r="8.8" fill="#4df38c" fill-opacity="0.60" stroke="#4df38c" stroke-opacity="0.60" stroke-width="1.7"/><circle cx="873.19" cy="540.99" r="8.8" fill="#58b2e2" fill-opacity="0.60" stroke="#58b2e2" stroke-opacity="0.60" stroke-width="1.7"/><circle cx="807.13" cy="625.46" r="8.8" fill="#5ed9b0" fill-opacity="0.60" stroke="#5ed9b0" stroke-opacity="0.60" stroke-width="1.7"/><circle cx="810.14" cy="555.07" r="8.8" fill="#5fd2b9" fill-opacity="0.60" stroke="#5fd2b9" stroke-opacity="0.60" stroke-width="1.7"/><circle cx="942.25" cy="442.45" r="8.8" fill="#d9e03f" fill-opacity="0.60" stroke="#d9e03f" stroke-opacity="0.60" stroke-width="1.7"/><circle cx="789.12" cy="634.84" r="8.8" fill="#30123b" fill-opacity="0.60" stroke="#30123b" stroke-opacity="0.60" stroke-width="1.7"/><circle cx="987.29" cy="479.99" r="8.8" fill="#a9ec61" fill-opacity="0.60" stroke="#a9ec61" stroke-opacity="0.60" stroke-width="1.7"/><circle cx="852.17" cy="498.76" r="8.8" fill="#5bdfa8" fill-opacity="0.60" stroke="#5bdfa8" stroke-opacity="0.60" stroke-width="1.7"/><circle cx="768.10" cy="592.61" r="8.8" fill="#5cb8da" fill-opacity="0.60" stroke="#5cb8da" stroke-opacity="0.60" stroke-width="1.7"/><circle cx="909.22" cy="517.53" r="8.8" fill="#53acea" fill-opacity="0.60" stroke="#53acea" stroke-opacity="0.60" stroke-width="1.7"/><circle cx="747.08" cy="616.08" r="8.8" fill="#4da5f1" fill-opacity="0.60" stroke="#4da5f1" stroke-opacity="0.60" stroke-width="1.7"/><circle cx="909.22" cy="573.84" r="8.8" fill="#5dbcd6" fill-opacity="0.60" stroke="#5dbcd6" stroke-opacity="0.60" stroke-width="1.7"/><circle cx="906.22" cy="545.69" r="8.8" fill="#a0ed66" fill-opacity="0.60" stroke="#a0ed66" stroke-opacity="0.60" stroke-width="1.7"/><circle cx="885.20" cy="573.84" r="8.8" fill="#4097f8" fill-opacity="0.60" stroke="#4097f8" stroke-opacity="0.60" stroke-width="1.7"/><circle cx="852.17" cy="494.07" r="8.8" fill="#7ef375" fill-opacity="0.60" stroke="#7ef375" stroke-opacity="0.60" stroke-width="1.7"/><circle cx="927.24" cy="536.30" r="8.8" fill="#4678cc" fill-opacity="0.60" stroke="#4678cc" stroke-opacity="0.60" stroke-width="1.7"/><circle cx="876.19" cy="602.00" r="8.8" fill="#5dbcd6" fill-opacity="0.60" stroke="#5dbcd6" stroke-opacity="0.60" stroke-width="1.7"/><circle cx="825.15" cy="644.23" r="8.8" fill="#4488e2" fill-opacity="0.60" stroke="#4488e2" stroke-opacity="0.60" stroke-width="1.7"/><circle cx="924.24" cy="522.23" r="8.8" fill="#5bdfa8" fill-opacity="0.60" stroke="#5bdfa8" stroke-opacity="0.60" stroke-width="1.7"/><circle cx="753.09" cy="602.00" r="8.8" fill="#58b2e2" fill-opacity="0.60" stroke="#58b2e2" stroke-opacity="0.60" stroke-width="1.7"/><circle cx="903.22" cy="489.38" r="8.8" fill="#53ec95" fill-opacity="0.60" stroke="#53ec95" stroke-opacity="0.60" stroke-width="1.7"/><circle cx="657.01" cy="602.00" r="8.8" fill="#438de9" fill-opacity="0.60" stroke="#438de9" stroke-opacity="0.60" stroke-width="1.7"/><circle cx="948.26" cy="531.61" r="8.8" fill="#449ff9" fill-opacity="0.60" stroke="#449ff9" stroke-opacity="0.60" stroke-width="1.7"/><circle cx="738.08" cy="634.84" r="8.8" fill="#4678cc" fill-opacity="0.60" stroke="#4678cc" stroke-opacity="0.60" stroke-width="1.7"/><circle cx="861.18" cy="479.99" r="8.8" fill="#53ec95" fill-opacity="0.60" stroke="#53ec95" stroke-opacity="0.60" stroke-width="1.7"/><circle cx="888.21" cy="531.61" r="8.8" fill="#60ccc1" fill-opacity="0.60" stroke="#60ccc1" stroke-opacity="0.60" stroke-width="1.7"/><circle cx="750.09" cy="503.46" r="8.8" fill="#50a8ee" fill-opacity="0.60" stroke="#50a8ee" stroke-opacity="0.60" stroke-width="1.7"/><circle cx="939.25" cy="498.76" r="8.8" fill="#5bdfa8" fill-opacity="0.60" stroke="#5bdfa8" stroke-opacity="0.60" stroke-width="1.7"/><circle cx="786.12" cy="639.54" r="8.8" fill="#5cb8da" fill-opacity="0.60" stroke="#5cb8da" stroke-opacity="0.60" stroke-width="1.7"/><circle cx="753.09" cy="616.08" r="8.8" fill="#5cb8da" fill-opacity="0.60" stroke="#5cb8da" stroke-opacity="0.60" stroke-width="1.7"/><circle cx="1056.35" cy="484.68" r="8.8" fill="#58e69f" fill-opacity="0.60" stroke="#58e69f" stroke-opacity="0.60" stroke-width="1.7"/><circle cx="687.03" cy="564.46" r="8.8" fill="#4097f8" fill-opacity="0.60" stroke="#4097f8" stroke-opacity="0.60" stroke-width="1.7"/><circle cx="870.19" cy="559.77" r="8.8" fill="#60c9c5" fill-opacity="0.60" stroke="#60c9c5" stroke-opacity="0.60" stroke-width="1.7"/><circle cx="906.22" cy="522.23" r="8.8" fill="#4df38c" fill-opacity="0.60" stroke="#4df38c" stroke-opacity="0.60" stroke-width="1.7"/><circle cx="888.21" cy="536.30" r="8.8" fill="#60c9c5" fill-opacity="0.60" stroke="#60c9c5" stroke-opacity="0.60" stroke-width="1.7"/>
<rect x="213.5" y="299.0" width="121.0" height="43.0" fill="#fff"/>
<polyline points="213.8,344.0 334.0,344.0 334.0,368.8 364.0,399.0" fill="none" stroke="#000" stroke-width="2.5" stroke-linecap="round" stroke-linejoin="round"/>
<text x="226.3" y="331.9" font-size="27.6" font-weight="bold" fill="#000" textLength="93.5" lengthAdjust="spacingAndGlyphs">Adelie</text>
<rect x="144.4" y="790.5" width="171.6" height="49.5" fill="#fff"/>
<polyline points="554.8,649.2 415.6,788.8 144.4,788.8" fill="none" stroke="#000" stroke-width="2.5" stroke-linecap="round" stroke-linejoin="round"/>
<text x="158.0" y="820.6" font-size="27.6" font-weight="bold" fill="#000" textLength="144.0" lengthAdjust="spacingAndGlyphs">Chinstrap</text>
<rect x="1144.0" y="795.0" width="134.4" height="44.5" fill="#fff"/>
<polyline points="1116.6,737.8 1144.5,765.7 1144.5,793.8 1278.4,793.8" fill="none" stroke="#000" stroke-width="2.5" stroke-linecap="round" stroke-linejoin="round"/>
<text x="1157.0" y="825.4" font-size="27.6" font-weight="bold" fill="#000" textLength="108.0" lengthAdjust="spacingAndGlyphs">Gentoo</text>
<g>
<path d="M1066.4,105.0 C1066.4,105.0 1070.0,98.7 1072.0,95.4 C1074.0,92.1 1076.4,89.9 1077.6,86.6 C1078.8,83.3 1078.2,80.5 1078.8,77.0 C1079.4,73.5 1079.7,71.0 1080.8,67.4 C1081.9,63.8 1083.1,60.3 1084.8,57.0 C1086.5,53.7 1088.1,51.4 1090.4,49.0 C1092.7,46.6 1094.4,45.2 1097.6,43.4 C1100.8,41.6 1104.0,40.4 1108.0,39.0 C1112.0,37.6 1115.7,36.6 1120.0,35.8 C1124.3,35.0 1127.7,34.6 1132.0,34.6 C1136.3,34.6 1140.1,34.8 1144.0,35.6 C1147.9,36.4 1150.3,37.2 1153.6,38.8 C1156.9,40.4 1159.8,42.8 1162.4,44.4 C1165.0,46.0 1165.0,46.6 1168.0,47.6 C1171.0,48.6 1174.5,49.0 1179.0,49.8 C1183.5,50.6 1188.6,51.5 1193.0,52.2 C1197.4,53.0 1199.7,53.1 1203.5,54.0 C1207.3,54.9 1210.8,56.2 1214.0,57.5 C1217.2,58.8 1218.9,59.8 1221.0,61.0 C1223.1,62.2 1224.4,63.1 1225.4,64.0 C1226.4,64.9 1226.8,66.0 1226.8,66.0 C1226.8,66.0 1223.3,68.3 1221.0,69.4 C1218.7,70.5 1217.2,71.3 1214.0,72.2 C1210.8,73.1 1207.3,73.7 1203.5,74.3 C1199.7,74.9 1196.2,75.1 1193.0,75.7 C1189.8,76.3 1188.5,76.8 1186.0,77.8 C1183.5,78.8 1181.5,80.0 1179.0,81.3 C1176.5,82.6 1174.5,83.5 1172.0,84.8 C1169.5,86.1 1167.0,86.9 1165.0,88.3 C1163.0,89.7 1162.1,90.5 1160.8,92.4 C1159.5,94.3 1158.3,96.7 1157.6,98.8 C1156.9,100.9 1157.2,102.3 1156.9,104.0 C1156.6,105.7 1156.7,106.7 1156.2,108.0 C1155.7,109.3 1154.3,111.4 1154.3,111.4 C1154.3,111.4 1150.3,109.4 1148.0,108.5 C1145.7,107.6 1144.9,106.7 1141.4,106.3 C1137.9,105.9 1133.4,105.5 1128.6,106.3 C1123.8,107.1 1118.6,108.0 1114.9,110.6 C1111.2,113.2 1108.0,120.9 1108.0,120.9 C1108.0,120.9 1110.5,122.9 1111.4,124.3 C1112.3,125.7 1112.5,127.1 1113.1,128.6 C1113.7,130.1 1114.4,130.6 1114.9,132.9 C1115.4,135.2 1114.8,138.5 1115.7,141.4 C1116.6,144.3 1117.7,146.5 1120.0,149.1 C1122.3,151.7 1128.6,156.0 1128.6,156.0 C1128.6,156.0 1122.3,155.1 1118.3,154.3 C1114.3,153.5 1109.8,152.8 1106.3,151.3 C1102.8,149.8 1101.8,148.6 1098.6,145.7 C1095.4,142.8 1088.3,135.4 1088.3,135.4 C1088.3,135.4 1089.6,134.4 1089.1,132.9 C1088.6,131.4 1088.9,130.0 1085.7,126.9 C1082.5,123.8 1074.6,119.6 1071.1,115.7 C1067.6,111.8 1066.4,105.0 1066.4,105.0Z" fill="#000"/>
<path d="M1119.2,39.4 C1120.9,38.1 1126.1,37.3 1128.0,37.0 C1129.9,36.7 1129.7,36.5 1131.2,37.6 C1132.7,38.7 1135.6,41.9 1137.6,43.6 C1139.6,45.3 1142.2,46.9 1144.0,48.4 C1145.8,49.9 1147.8,51.9 1148.8,53.2 C1149.8,54.5 1150.5,55.5 1150.4,56.4 C1150.3,57.3 1147.2,57.4 1148.0,58.8 C1148.8,60.2 1154.8,63.5 1155.2,65.2 C1155.6,66.9 1152.2,68.2 1150.4,69.2 C1148.6,70.2 1145.9,71.3 1144.0,71.6 C1142.1,71.9 1139.8,71.3 1138.4,70.8 C1137.0,70.3 1136.9,68.8 1135.2,68.4 C1133.5,68.0 1129.7,68.5 1128.0,68.4 C1126.3,68.3 1126.1,68.8 1124.8,67.6 C1123.5,66.4 1121.2,62.9 1120.0,61.0 C1118.8,59.1 1118.2,57.7 1117.6,56.0 C1117.0,54.3 1116.0,52.4 1116.0,50.6 C1116.0,48.8 1117.1,46.8 1117.6,45.0 C1118.1,43.2 1117.5,40.7 1119.2,39.4Z" fill="#fff"/>
<ellipse cx="1113.0" cy="42.5" rx="0.8" ry="0.7" fill="#fff"/>
<ellipse cx="1110.5" cy="46.5" rx="0.7" ry="0.6" fill="#fff"/>
<ellipse cx="1114.0" cy="46.0" rx="1.0" ry="0.8" fill="#fff"/>
<ellipse cx="1117.0" cy="44.5" rx="1.0" ry="0.8" fill="#fff"/>
<ellipse cx="1108.0" cy="50.0" rx="1.0" ry="0.8" fill="#fff"/>
<ellipse cx="1112.0" cy="52.0" rx="1.0" ry="0.8" fill="#fff"/>
<ellipse cx="1115.0" cy="56.0" rx="1.1" ry="0.9" fill="#fff"/>
<ellipse cx="1105.0" cy="49.0" rx="0.7" ry="0.6" fill="#fff"/>
<ellipse cx="1144" cy="64.8" rx="8" ry="5.7" transform="rotate(-5 1144 64.8)" fill="#000"/>
<circle cx="1144" cy="64.8" r="4.3" fill="#8e3b1e"/>
<circle cx="1144.6" cy="64.6" r="1.1" fill="#111"/>
<path d="M1172.0,66.2 L1182.5,61.7 L1194.4,58.2 L1203.5,58.3 L1214.0,60.6 L1219.6,63.8 L1224.5,65.5 L1207.0,64.2 L1186.0,64.8Z" fill="#f25a0c"/>
<path d="M1172.7,66.6 L1186.0,65.5 L1216.1,65.9 L1216.8,70.1 L1213.3,72.2 L1204.2,74.0 L1194.4,71.5 L1182.5,68.7 L1174.1,67.7Z" fill="#da5210"/>
<path d="M1214.5,68.5 L1217,66.8 L1216.5,71 L1213.8,72 Z" fill="#e8a020"/>
<path d="M1155.1,114.9 Q1163,128 1171.4,142.3 Q1174,150 1174,157.7" fill="none" stroke="#000" stroke-width="1.3"/>
<g stroke="#888" stroke-width="0.9" stroke-dasharray="2.2,1.6" fill="none">
<line x1="1197" y1="52.25" x2="1248" y2="52.25"/><line x1="1199" y1="75.35" x2="1250" y2="75.35"/>
</g>
<g stroke="#222" stroke-width="0.9" stroke-dasharray="2.2,1.6" fill="none">
<line x1="1180.7" y1="31.4" x2="1178.9" y2="49"/><line x1="1234.1" y1="40.5" x2="1227.4" y2="64.8"/>
</g>
<path d="M1181.8,36.3 Q1207,37 1231.8,46.4" fill="none" stroke="#222" stroke-width="0.9"/>
<path d="M1184.5,34.3 L1181.3,36.3 L1184.3,38.4" fill="none" stroke="#222" stroke-width="0.9"/>
<path d="M1228.5,43.6 L1232.1,46.5 L1227.6,47.3" fill="none" stroke="#222" stroke-width="0.9"/>
<line x1="1246.9" y1="54.2" x2="1246.9" y2="73.6" stroke="#888" stroke-width="0.9"/>
<path d="M1245,56.5 L1246.9,54 L1248.8,56.5 M1245,71.3 L1246.9,73.8 L1248.8,71.3" fill="none" stroke="#888" stroke-width="0.9"/>
<text transform="translate(1188.4,31.4) rotate(7.5)" font-size="9.6" fill="#444" textLength="41.5" lengthAdjust="spacingAndGlyphs">Bill length</text>
<text x="1249.6" y="67.8" font-size="10.2" fill="#555" textLength="42" lengthAdjust="spacingAndGlyphs">Bill depth</text>
<text x="1180.2" y="135.5" font-size="6.9" fill="#444" textLength="122.7" lengthAdjust="spacingAndGlyphs"><tspan font-weight="bold" fill="#222">Note:</tspan> In the raw data, bill dimensions</text>
<text x="1180.2" y="145.7" font-size="6.9" fill="#444" textLength="120.8" lengthAdjust="spacingAndGlyphs">are recorded as “culmen length” and</text>
<text x="1180.2" y="155.4" font-size="6.9" fill="#444" textLength="114.6" lengthAdjust="spacingAndGlyphs">“culmen depth”. The culmen is the</text>
<text x="1180.2" y="165.5" font-size="6.9" fill="#444" textLength="81.8" lengthAdjust="spacingAndGlyphs">dorsal ridge atop the bill.</text>
</g>
</svg></body></html>
